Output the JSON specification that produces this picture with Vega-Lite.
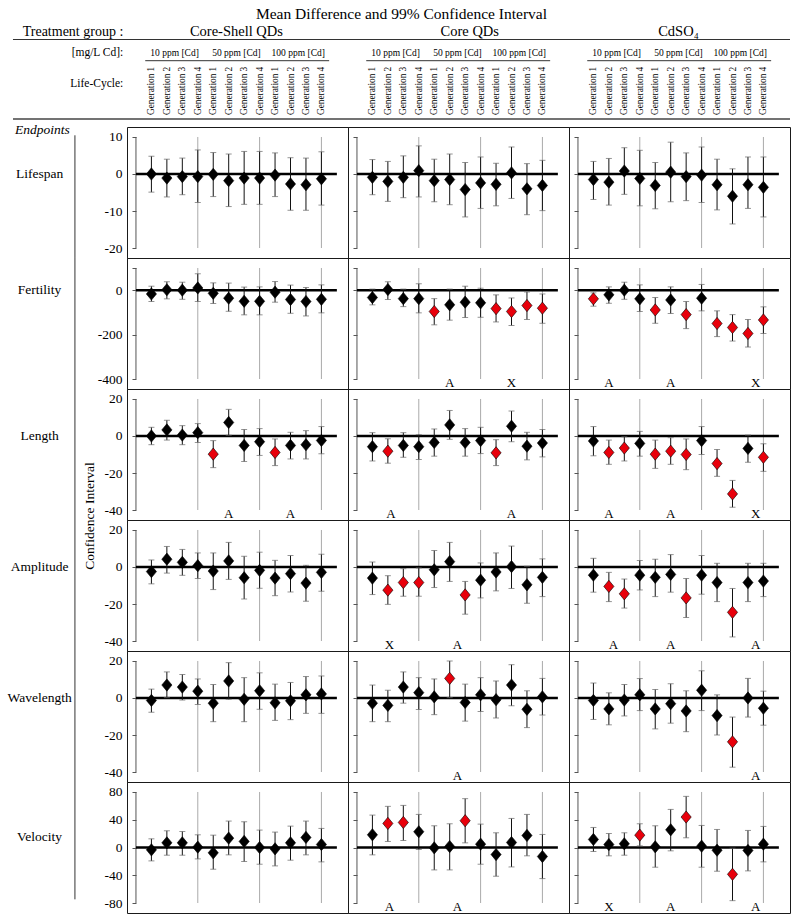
{
"$schema": "https://vega.github.io/schema/vega-lite/v6.json",
"padding": 0,
"background": "white",
"config": {"font": "Liberation Serif", "view": {"stroke": "#1a1a1a", "strokeWidth": 1}, "axis": {"labelFont": "Liberation Serif", "labelFontSize": 13.5, "labelColor": "#000", "labelOverlap": false, "labelFlush": false}, "text": {"color": "#000"}},
"datasets": {
"one": [{}],
"seps": [{"s": 4}, {"s": 8}, {"s": 12}],
"gens": [
{"g":1,"n":"Generation 1","c":"10 ppm [Cd]"},{"g":2,"n":"Generation 2","c":"10 ppm [Cd]"},{"g":3,"n":"Generation 3","c":"10 ppm [Cd]"},{"g":4,"n":"Generation 4","c":"10 ppm [Cd]"},
{"g":5,"n":"Generation 1","c":"50 ppm [Cd]"},{"g":6,"n":"Generation 2","c":"50 ppm [Cd]"},{"g":7,"n":"Generation 3","c":"50 ppm [Cd]"},{"g":8,"n":"Generation 4","c":"50 ppm [Cd]"},
{"g":9,"n":"Generation 1","c":"100 ppm [Cd]"},{"g":10,"n":"Generation 2","c":"100 ppm [Cd]"},{"g":11,"n":"Generation 3","c":"100 ppm [Cd]"},{"g":12,"n":"Generation 4","c":"100 ppm [Cd]"}],
"ann": [
{"e":"Fertility","t":"CQ","p":6,"a":"A"},{"e":"Fertility","t":"CQ","p":10,"a":"X"},
{"e":"Fertility","t":"Cd","p":2,"a":"A"},{"e":"Fertility","t":"Cd","p":6,"a":"A"},{"e":"Fertility","t":"Cd","p":11.5,"a":"X"},
{"e":"Length","t":"CS","p":6,"a":"A"},{"e":"Length","t":"CS","p":10,"a":"A"},
{"e":"Length","t":"CQ","p":2.2,"a":"A"},{"e":"Length","t":"CQ","p":10,"a":"A"},
{"e":"Length","t":"Cd","p":2,"a":"A"},{"e":"Length","t":"Cd","p":6,"a":"A"},{"e":"Length","t":"Cd","p":11.5,"a":"X"},
{"e":"Amplitude","t":"CQ","p":2.1,"a":"X"},{"e":"Amplitude","t":"CQ","p":6.5,"a":"A"},
{"e":"Amplitude","t":"Cd","p":2.3,"a":"A"},{"e":"Amplitude","t":"Cd","p":6,"a":"A"},{"e":"Amplitude","t":"Cd","p":11.5,"a":"A"},
{"e":"Wavelength","t":"CQ","p":6.5,"a":"A"},{"e":"Wavelength","t":"Cd","p":11.5,"a":"A"},
{"e":"Velocity","t":"CQ","p":2.1,"a":"A"},{"e":"Velocity","t":"CQ","p":6.5,"a":"A"},
{"e":"Velocity","t":"Cd","p":2,"a":"X"},{"e":"Velocity","t":"Cd","p":6,"a":"A"},{"e":"Velocity","t":"Cd","p":11.5,"a":"A"}],
"pts": [
{"e":"Lifespan","t":"CS","g":1,"m":0,"l":-4.9,"u":4.8,"s":0},
{"e":"Lifespan","t":"CS","g":2,"m":-1.1,"l":-6.2,"u":4.0,"s":0},
{"e":"Lifespan","t":"CS","g":3,"m":-0.7,"l":-5.6,"u":4.3,"s":0},
{"e":"Lifespan","t":"CS","g":4,"m":-0.7,"l":-7.7,"u":6.5,"s":0},
{"e":"Lifespan","t":"CS","g":5,"m":-0.1,"l":-6.1,"u":5.8,"s":0},
{"e":"Lifespan","t":"CS","g":6,"m":-1.8,"l":-8.8,"u":5.4,"s":0},
{"e":"Lifespan","t":"CS","g":7,"m":-1.1,"l":-8.2,"u":6.1,"s":0},
{"e":"Lifespan","t":"CS","g":8,"m":-1.1,"l":-8.2,"u":6.1,"s":0},
{"e":"Lifespan","t":"CS","g":9,"m":-0.3,"l":-6.1,"u":5.7,"s":0},
{"e":"Lifespan","t":"CS","g":10,"m":-2.7,"l":-9.8,"u":4.4,"s":0},
{"e":"Lifespan","t":"CS","g":11,"m":-2.9,"l":-9.8,"u":4.3,"s":0},
{"e":"Lifespan","t":"CS","g":12,"m":-1.3,"l":-8.4,"u":6.0,"s":0},
{"e":"Lifespan","t":"CQ","g":1,"m":-0.9,"l":-5.6,"u":3.9,"s":0},
{"e":"Lifespan","t":"CQ","g":2,"m":-2.0,"l":-7.4,"u":3.4,"s":0},
{"e":"Lifespan","t":"CQ","g":3,"m":-0.9,"l":-6.4,"u":4.9,"s":0},
{"e":"Lifespan","t":"CQ","g":4,"m":0.9,"l":-6.2,"u":7.6,"s":0},
{"e":"Lifespan","t":"CQ","g":5,"m":-1.8,"l":-7.5,"u":4.0,"s":0},
{"e":"Lifespan","t":"CQ","g":6,"m":-1.5,"l":-8.3,"u":5.4,"s":0},
{"e":"Lifespan","t":"CQ","g":7,"m":-4.2,"l":-11.6,"u":3.1,"s":0},
{"e":"Lifespan","t":"CQ","g":8,"m":-2.4,"l":-9.3,"u":4.6,"s":0},
{"e":"Lifespan","t":"CQ","g":9,"m":-2.8,"l":-8.6,"u":2.9,"s":0},
{"e":"Lifespan","t":"CQ","g":10,"m":0.3,"l":-6.6,"u":7.3,"s":0},
{"e":"Lifespan","t":"CQ","g":11,"m":-4.0,"l":-11.0,"u":2.8,"s":0},
{"e":"Lifespan","t":"CQ","g":12,"m":-3.1,"l":-9.9,"u":3.7,"s":0},
{"e":"Lifespan","t":"Cd","g":1,"m":-1.5,"l":-6.9,"u":3.4,"s":0},
{"e":"Lifespan","t":"Cd","g":2,"m":-2.2,"l":-8.4,"u":4.2,"s":0},
{"e":"Lifespan","t":"Cd","g":3,"m":0.8,"l":-5.5,"u":7.1,"s":0},
{"e":"Lifespan","t":"Cd","g":4,"m":-1.2,"l":-8.6,"u":6.4,"s":0},
{"e":"Lifespan","t":"Cd","g":5,"m":-3.1,"l":-9.4,"u":3.1,"s":0},
{"e":"Lifespan","t":"Cd","g":6,"m":0.5,"l":-7.5,"u":8.6,"s":0},
{"e":"Lifespan","t":"Cd","g":7,"m":-0.7,"l":-7.2,"u":5.7,"s":0},
{"e":"Lifespan","t":"Cd","g":8,"m":-0.3,"l":-7.7,"u":7.3,"s":0},
{"e":"Lifespan","t":"Cd","g":9,"m":-2.9,"l":-9.7,"u":4.0,"s":0},
{"e":"Lifespan","t":"Cd","g":10,"m":-6.0,"l":-13.5,"u":1.4,"s":0},
{"e":"Lifespan","t":"Cd","g":11,"m":-2.9,"l":-9.3,"u":4.6,"s":0},
{"e":"Lifespan","t":"Cd","g":12,"m":-3.6,"l":-11.6,"u":4.6,"s":0},
{"e":"Fertility","t":"CS","g":1,"m":-17,"l":-51,"u":18,"s":0},
{"e":"Fertility","t":"CS","g":2,"m":2,"l":-39,"u":38,"s":0},
{"e":"Fertility","t":"CS","g":3,"m":0,"l":-41,"u":36,"s":0},
{"e":"Fertility","t":"CS","g":4,"m":10,"l":-51,"u":74,"s":0},
{"e":"Fertility","t":"CS","g":5,"m":-14,"l":-60,"u":33,"s":0},
{"e":"Fertility","t":"CS","g":6,"m":-36,"l":-95,"u":32,"s":0},
{"e":"Fertility","t":"CS","g":7,"m":-50,"l":-111,"u":14,"s":0},
{"e":"Fertility","t":"CS","g":8,"m":-50,"l":-111,"u":15,"s":0},
{"e":"Fertility","t":"CS","g":9,"m":-9,"l":-54,"u":39,"s":0},
{"e":"Fertility","t":"CS","g":10,"m":-42,"l":-104,"u":23,"s":0},
{"e":"Fertility","t":"CS","g":11,"m":-51,"l":-116,"u":12,"s":0},
{"e":"Fertility","t":"CS","g":12,"m":-41,"l":-102,"u":24,"s":0},
{"e":"Fertility","t":"CQ","g":1,"m":-33,"l":-66,"u":5,"s":0},
{"e":"Fertility","t":"CQ","g":2,"m":3,"l":-42,"u":38,"s":0},
{"e":"Fertility","t":"CQ","g":3,"m":-38,"l":-74,"u":5,"s":0},
{"e":"Fertility","t":"CQ","g":4,"m":-38,"l":-102,"u":29,"s":0},
{"e":"Fertility","t":"CQ","g":5,"m":-96,"l":-156,"u":-38,"s":1},
{"e":"Fertility","t":"CQ","g":6,"m":-66,"l":-135,"u":5,"s":0},
{"e":"Fertility","t":"CQ","g":7,"m":-54,"l":-123,"u":18,"s":0},
{"e":"Fertility","t":"CQ","g":8,"m":-57,"l":-122,"u":9,"s":0},
{"e":"Fertility","t":"CQ","g":9,"m":-83,"l":-143,"u":-21,"s":1},
{"e":"Fertility","t":"CQ","g":10,"m":-96,"l":-159,"u":-35,"s":1},
{"e":"Fertility","t":"CQ","g":11,"m":-69,"l":-132,"u":-8,"s":1},
{"e":"Fertility","t":"CQ","g":12,"m":-81,"l":-149,"u":-17,"s":1},
{"e":"Fertility","t":"Cd","g":1,"m":-39,"l":-72,"u":-12,"s":1},
{"e":"Fertility","t":"Cd","g":2,"m":-21,"l":-59,"u":15,"s":0},
{"e":"Fertility","t":"Cd","g":3,"m":0,"l":-41,"u":36,"s":0},
{"e":"Fertility","t":"Cd","g":4,"m":-39,"l":-96,"u":24,"s":0},
{"e":"Fertility","t":"Cd","g":5,"m":-89,"l":-149,"u":-33,"s":1},
{"e":"Fertility","t":"Cd","g":6,"m":-44,"l":-105,"u":15,"s":0},
{"e":"Fertility","t":"Cd","g":7,"m":-110,"l":-173,"u":-51,"s":1},
{"e":"Fertility","t":"Cd","g":8,"m":-36,"l":-93,"u":26,"s":0},
{"e":"Fertility","t":"Cd","g":9,"m":-150,"l":-209,"u":-93,"s":1},
{"e":"Fertility","t":"Cd","g":10,"m":-168,"l":-229,"u":-110,"s":1},
{"e":"Fertility","t":"Cd","g":11,"m":-195,"l":-256,"u":-132,"s":1},
{"e":"Fertility","t":"Cd","g":12,"m":-134,"l":-195,"u":-75,"s":1},
{"e":"Length","t":"CS","g":1,"m":0,"l":-4.7,"u":4.7,"s":0},
{"e":"Length","t":"CS","g":2,"m":3.3,"l":-2.2,"u":8.5,"s":0},
{"e":"Length","t":"CS","g":3,"m":0.5,"l":-4.7,"u":5.6,"s":0},
{"e":"Length","t":"CS","g":4,"m":1.8,"l":-3.5,"u":6.7,"s":0},
{"e":"Length","t":"CS","g":5,"m":-9.8,"l":-17.1,"u":-2.5,"s":1},
{"e":"Length","t":"CS","g":6,"m":7.3,"l":0.4,"u":14.4,"s":0},
{"e":"Length","t":"CS","g":7,"m":-5.1,"l":-13.8,"u":3.5,"s":0},
{"e":"Length","t":"CS","g":8,"m":-3.1,"l":-10.5,"u":4.0,"s":0},
{"e":"Length","t":"CS","g":9,"m":-8.9,"l":-16.0,"u":-1.6,"s":1},
{"e":"Length","t":"CS","g":10,"m":-5.1,"l":-12.4,"u":2.0,"s":0},
{"e":"Length","t":"CS","g":11,"m":-4.7,"l":-12.4,"u":2.9,"s":0},
{"e":"Length","t":"CS","g":12,"m":-2.4,"l":-9.6,"u":5.1,"s":0},
{"e":"Length","t":"CQ","g":1,"m":-5.8,"l":-13.5,"u":1.8,"s":0},
{"e":"Length","t":"CQ","g":2,"m":-8.2,"l":-14.7,"u":-1.5,"s":1},
{"e":"Length","t":"CQ","g":3,"m":-5.1,"l":-11.5,"u":1.8,"s":0},
{"e":"Length","t":"CQ","g":4,"m":-5.8,"l":-12.7,"u":0.7,"s":0},
{"e":"Length","t":"CQ","g":5,"m":-3.5,"l":-10.9,"u":3.8,"s":0},
{"e":"Length","t":"CQ","g":6,"m":6.0,"l":-1.8,"u":13.8,"s":0},
{"e":"Length","t":"CQ","g":7,"m":-3.5,"l":-10.9,"u":4.0,"s":0},
{"e":"Length","t":"CQ","g":8,"m":-2.5,"l":-9.5,"u":4.7,"s":0},
{"e":"Length","t":"CQ","g":9,"m":-9.1,"l":-16.0,"u":-2.0,"s":1},
{"e":"Length","t":"CQ","g":10,"m":5.3,"l":-3.1,"u":13.5,"s":0},
{"e":"Length","t":"CQ","g":11,"m":-5.5,"l":-12.9,"u":2.0,"s":0},
{"e":"Length","t":"CQ","g":12,"m":-3.8,"l":-11.3,"u":3.5,"s":0},
{"e":"Length","t":"Cd","g":1,"m":-2.7,"l":-10.7,"u":5.1,"s":0},
{"e":"Length","t":"Cd","g":2,"m":-8.9,"l":-15.3,"u":-2.2,"s":1},
{"e":"Length","t":"Cd","g":3,"m":-6.5,"l":-13.5,"u":-0.4,"s":1},
{"e":"Length","t":"Cd","g":4,"m":-4.0,"l":-10.9,"u":2.5,"s":0},
{"e":"Length","t":"Cd","g":5,"m":-9.8,"l":-17.5,"u":-2.2,"s":1},
{"e":"Length","t":"Cd","g":6,"m":-8.2,"l":-15.3,"u":-0.9,"s":1},
{"e":"Length","t":"Cd","g":7,"m":-10.0,"l":-18.2,"u":-1.6,"s":1},
{"e":"Length","t":"Cd","g":8,"m":-2.5,"l":-10.0,"u":5.1,"s":0},
{"e":"Length","t":"Cd","g":9,"m":-14.9,"l":-21.8,"u":-7.3,"s":1},
{"e":"Length","t":"Cd","g":10,"m":-31.3,"l":-38.5,"u":-24.0,"s":1},
{"e":"Length","t":"Cd","g":11,"m":-6.7,"l":-14.2,"u":0.5,"s":0},
{"e":"Length","t":"Cd","g":12,"m":-11.5,"l":-19.1,"u":-4.2,"s":1},
{"e":"Amplitude","t":"CS","g":1,"m":-2.5,"l":-9.1,"u":3.8,"s":0},
{"e":"Amplitude","t":"CS","g":2,"m":4.2,"l":-3.3,"u":11.1,"s":0},
{"e":"Amplitude","t":"CS","g":3,"m":2.5,"l":-4.5,"u":9.5,"s":0},
{"e":"Amplitude","t":"CS","g":4,"m":0.7,"l":-6.2,"u":7.6,"s":0},
{"e":"Amplitude","t":"CS","g":5,"m":-2.2,"l":-12.2,"u":7.6,"s":0},
{"e":"Amplitude","t":"CS","g":6,"m":3.3,"l":-6.7,"u":13.3,"s":0},
{"e":"Amplitude","t":"CS","g":7,"m":-5.8,"l":-17.3,"u":5.8,"s":0},
{"e":"Amplitude","t":"CS","g":8,"m":-1.8,"l":-11.5,"u":8.0,"s":0},
{"e":"Amplitude","t":"CS","g":9,"m":-6.0,"l":-15.5,"u":3.6,"s":0},
{"e":"Amplitude","t":"CS","g":10,"m":-3.6,"l":-13.5,"u":6.2,"s":0},
{"e":"Amplitude","t":"CS","g":11,"m":-8.7,"l":-18.5,"u":0.9,"s":0},
{"e":"Amplitude","t":"CS","g":12,"m":-2.9,"l":-13.1,"u":6.9,"s":0},
{"e":"Amplitude","t":"CQ","g":1,"m":-6.0,"l":-14.9,"u":2.7,"s":0},
{"e":"Amplitude","t":"CQ","g":2,"m":-12.5,"l":-20.2,"u":-4.7,"s":1},
{"e":"Amplitude","t":"CQ","g":3,"m":-8.4,"l":-15.8,"u":-0.9,"s":1},
{"e":"Amplitude","t":"CQ","g":4,"m":-8.4,"l":-15.8,"u":-0.5,"s":1},
{"e":"Amplitude","t":"CQ","g":5,"m":-1.5,"l":-11.1,"u":8.9,"s":0},
{"e":"Amplitude","t":"CQ","g":6,"m":2.9,"l":-7.8,"u":13.3,"s":0},
{"e":"Amplitude","t":"CQ","g":7,"m":-15.1,"l":-25.5,"u":-7.8,"s":1},
{"e":"Amplitude","t":"CQ","g":8,"m":-7.1,"l":-16.7,"u":2.2,"s":0},
{"e":"Amplitude","t":"CQ","g":9,"m":-2.7,"l":-12.9,"u":7.6,"s":0},
{"e":"Amplitude","t":"CQ","g":10,"m":0.2,"l":-11.6,"u":11.3,"s":0},
{"e":"Amplitude","t":"CQ","g":11,"m":-9.6,"l":-19.6,"u":0.4,"s":0},
{"e":"Amplitude","t":"CQ","g":12,"m":-5.6,"l":-16.0,"u":4.4,"s":0},
{"e":"Amplitude","t":"Cd","g":1,"m":-4.4,"l":-13.6,"u":4.7,"s":0},
{"e":"Amplitude","t":"Cd","g":2,"m":-10.5,"l":-18.7,"u":-2.9,"s":1},
{"e":"Amplitude","t":"Cd","g":3,"m":-14.5,"l":-22.2,"u":-6.5,"s":1},
{"e":"Amplitude","t":"Cd","g":4,"m":-4.4,"l":-12.4,"u":3.5,"s":0},
{"e":"Amplitude","t":"Cd","g":5,"m":-5.6,"l":-16.0,"u":4.2,"s":0},
{"e":"Amplitude","t":"Cd","g":6,"m":-4.0,"l":-13.6,"u":6.7,"s":0},
{"e":"Amplitude","t":"Cd","g":7,"m":-16.7,"l":-27.3,"u":-6.2,"s":1},
{"e":"Amplitude","t":"Cd","g":8,"m":-4.4,"l":-14.7,"u":6.2,"s":0},
{"e":"Amplitude","t":"Cd","g":9,"m":-8.4,"l":-18.7,"u":2.0,"s":0},
{"e":"Amplitude","t":"Cd","g":10,"m":-24.5,"l":-37.8,"u":-11.6,"s":1},
{"e":"Amplitude","t":"Cd","g":11,"m":-8.4,"l":-18.7,"u":2.0,"s":0},
{"e":"Amplitude","t":"Cd","g":12,"m":-7.6,"l":-16.0,"u":2.0,"s":0},
{"e":"Wavelength","t":"CS","g":1,"m":-1.3,"l":-7.7,"u":4.8,"s":0},
{"e":"Wavelength","t":"CS","g":2,"m":7.0,"l":0.2,"u":14.1,"s":0},
{"e":"Wavelength","t":"CS","g":3,"m":5.9,"l":-1.1,"u":12.7,"s":0},
{"e":"Wavelength","t":"CS","g":4,"m":3.7,"l":-3.5,"u":10.3,"s":0},
{"e":"Wavelength","t":"CS","g":5,"m":-2.8,"l":-12.8,"u":7.3,"s":0},
{"e":"Wavelength","t":"CS","g":6,"m":9.2,"l":-0.7,"u":19.1,"s":0},
{"e":"Wavelength","t":"CS","g":7,"m":-0.7,"l":-12.8,"u":11.0,"s":0},
{"e":"Wavelength","t":"CS","g":8,"m":3.9,"l":-6.1,"u":13.6,"s":0},
{"e":"Wavelength","t":"CS","g":9,"m":-2.6,"l":-12.1,"u":7.5,"s":0},
{"e":"Wavelength","t":"CS","g":10,"m":-1.5,"l":-11.7,"u":8.4,"s":0},
{"e":"Wavelength","t":"CS","g":11,"m":1.7,"l":-8.3,"u":11.6,"s":0},
{"e":"Wavelength","t":"CS","g":12,"m":2.2,"l":-8.3,"u":11.9,"s":0},
{"e":"Wavelength","t":"CQ","g":1,"m":-2.8,"l":-12.8,"u":7.0,"s":0},
{"e":"Wavelength","t":"CQ","g":2,"m":-4.0,"l":-12.8,"u":4.2,"s":0},
{"e":"Wavelength","t":"CQ","g":3,"m":5.9,"l":-2.8,"u":14.1,"s":0},
{"e":"Wavelength","t":"CQ","g":4,"m":2.9,"l":-6.2,"u":11.0,"s":0},
{"e":"Wavelength","t":"CQ","g":5,"m":0.6,"l":-9.0,"u":10.3,"s":0},
{"e":"Wavelength","t":"CQ","g":6,"m":10.6,"l":0.2,"u":20.0,"s":1},
{"e":"Wavelength","t":"CQ","g":7,"m":-2.4,"l":-12.5,"u":7.5,"s":0},
{"e":"Wavelength","t":"CQ","g":8,"m":1.7,"l":-7.3,"u":11.0,"s":0},
{"e":"Wavelength","t":"CQ","g":9,"m":-0.9,"l":-10.8,"u":9.2,"s":0},
{"e":"Wavelength","t":"CQ","g":10,"m":7.0,"l":-4.2,"u":18.0,"s":0},
{"e":"Wavelength","t":"CQ","g":11,"m":-6.1,"l":-16.0,"u":3.9,"s":0},
{"e":"Wavelength","t":"CQ","g":12,"m":0.6,"l":-9.2,"u":10.6,"s":0},
{"e":"Wavelength","t":"Cd","g":1,"m":-1.3,"l":-11.6,"u":8.1,"s":0},
{"e":"Wavelength","t":"Cd","g":2,"m":-5.9,"l":-14.5,"u":2.8,"s":0},
{"e":"Wavelength","t":"Cd","g":3,"m":-1.1,"l":-9.7,"u":7.3,"s":0},
{"e":"Wavelength","t":"Cd","g":4,"m":1.7,"l":-6.8,"u":10.5,"s":0},
{"e":"Wavelength","t":"Cd","g":5,"m":-5.9,"l":-16.7,"u":4.6,"s":0},
{"e":"Wavelength","t":"Cd","g":6,"m":-3.1,"l":-13.6,"u":7.7,"s":0},
{"e":"Wavelength","t":"Cd","g":7,"m":-7.0,"l":-18.2,"u":3.9,"s":0},
{"e":"Wavelength","t":"Cd","g":8,"m":4.2,"l":-6.8,"u":14.7,"s":0},
{"e":"Wavelength","t":"Cd","g":9,"m":-9.5,"l":-20.0,"u":1.7,"s":0},
{"e":"Wavelength","t":"Cd","g":10,"m":-23.7,"l":-37.4,"u":-10.3,"s":1},
{"e":"Wavelength","t":"Cd","g":11,"m":0,"l":-10.3,"u":10.6,"s":0},
{"e":"Wavelength","t":"Cd","g":12,"m":-5.5,"l":-14.7,"u":3.7,"s":0},
{"e":"Velocity","t":"CS","g":1,"m":-3.4,"l":-19.3,"u":12.5,"s":0},
{"e":"Velocity","t":"CS","g":2,"m":6.7,"l":-11.1,"u":24.1,"s":0},
{"e":"Velocity","t":"CS","g":3,"m":6.7,"l":-11.1,"u":23.1,"s":0},
{"e":"Velocity","t":"CS","g":4,"m":0.5,"l":-16.4,"u":18.3,"s":0},
{"e":"Velocity","t":"CS","g":5,"m":-7.7,"l":-31.3,"u":17.8,"s":0},
{"e":"Velocity","t":"CS","g":6,"m":13.5,"l":-10.6,"u":38.1,"s":0},
{"e":"Velocity","t":"CS","g":7,"m":8.7,"l":-20.2,"u":37.1,"s":0},
{"e":"Velocity","t":"CS","g":8,"m":0,"l":-24.1,"u":25.1,"s":0},
{"e":"Velocity","t":"CS","g":9,"m":-1.9,"l":-26.5,"u":22.2,"s":0},
{"e":"Velocity","t":"CS","g":10,"m":6.7,"l":-18.3,"u":30.8,"s":0},
{"e":"Velocity","t":"CS","g":11,"m":14.5,"l":-10.6,"u":38.1,"s":0},
{"e":"Velocity","t":"CS","g":12,"m":4.3,"l":-20.7,"u":27.5,"s":0},
{"e":"Velocity","t":"CQ","g":1,"m":18.3,"l":-10.6,"u":46.7,"s":0},
{"e":"Velocity","t":"CQ","g":2,"m":34.7,"l":8.7,"u":59.3,"s":1},
{"e":"Velocity","t":"CQ","g":3,"m":36.1,"l":10.1,"u":60.7,"s":1},
{"e":"Velocity","t":"CQ","g":4,"m":22.7,"l":-2.9,"u":47.7,"s":0},
{"e":"Velocity","t":"CQ","g":5,"m":-0.5,"l":-32.3,"u":31.3,"s":0},
{"e":"Velocity","t":"CQ","g":6,"m":1.4,"l":-32.3,"u":34.2,"s":0},
{"e":"Velocity","t":"CQ","g":7,"m":38.6,"l":6.7,"u":70.4,"s":1},
{"e":"Velocity","t":"CQ","g":8,"m":4.8,"l":-24.1,"u":33.7,"s":0},
{"e":"Velocity","t":"CQ","g":9,"m":-10.1,"l":-41.4,"u":21.2,"s":0},
{"e":"Velocity","t":"CQ","g":10,"m":7.2,"l":-28.0,"u":41.9,"s":0},
{"e":"Velocity","t":"CQ","g":11,"m":17.3,"l":-12.0,"u":47.7,"s":0},
{"e":"Velocity","t":"CQ","g":12,"m":-13.0,"l":-44.8,"u":18.8,"s":0},
{"e":"Velocity","t":"Cd","g":1,"m":11.6,"l":-5.8,"u":28.9,"s":0},
{"e":"Velocity","t":"Cd","g":2,"m":4.3,"l":-12.0,"u":20.2,"s":0},
{"e":"Velocity","t":"Cd","g":3,"m":5.3,"l":-11.1,"u":21.2,"s":0},
{"e":"Velocity","t":"Cd","g":4,"m":17.8,"l":2.4,"u":34.2,"s":1},
{"e":"Velocity","t":"Cd","g":5,"m":1.0,"l":-28.4,"u":31.3,"s":0},
{"e":"Velocity","t":"Cd","g":6,"m":25.5,"l":-4.8,"u":54.9,"s":0},
{"e":"Velocity","t":"Cd","g":7,"m":43.9,"l":14.0,"u":73.7,"s":1},
{"e":"Velocity","t":"Cd","g":8,"m":1.9,"l":-28.4,"u":31.8,"s":0},
{"e":"Velocity","t":"Cd","g":9,"m":-3.9,"l":-34.2,"u":26.0,"s":0},
{"e":"Velocity","t":"Cd","g":10,"m":-38.6,"l":-76.6,"u":-1.0,"s":1},
{"e":"Velocity","t":"Cd","g":11,"m":-4.3,"l":-33.7,"u":24.6,"s":0},
{"e":"Velocity","t":"Cd","g":12,"m":4.8,"l":-20.7,"u":30.4,"s":0}
]},
"columns": 4,
"spacing": 0,
"bounds": "flush",
"concat": [
{"width":127,"height":126.7,"view":{"stroke":null},"data":{"name":"one"},"layer":[
 {"mark":{"type":"text","align":"right","fontSize":14,"text":"Treatment group :"},"encoding":{"x":{"datum":-0.82,"type":"quantitative","scale":{"domain":[-8.8,-0.58],"nice":false,"zero":false},"axis":null},"y":{"datum":32,"type":"quantitative","scale":{"domain":[0,126.7],"reverse":true,"nice":false,"zero":false},"axis":null}}},
 {"mark":{"type":"text","align":"right","fontSize":11.5,"text":"[mg/L Cd]:"},"encoding":{"x":{"datum":-0.82,"type":"quantitative","axis":null},"y":{"datum":53.3,"type":"quantitative","axis":null}}},
 {"mark":{"type":"text","align":"right","fontSize":11.5,"text":"Life-Cycle:"},"encoding":{"x":{"datum":-0.82,"type":"quantitative","axis":null},"y":{"datum":84,"type":"quantitative","axis":null}}},
 {"mark":{"type":"rule","color":"#333"},"encoding":{"x":{"datum":-7.96,"type":"quantitative","axis":null},"x2":{"datum":-0.58},"y":{"datum":39.5,"type":"quantitative","axis":null}}},
 {"mark":{"type":"rule","color":"#444","strokeWidth":1.5},"encoding":{"x":{"datum":-7.96,"type":"quantitative","axis":null},"x2":{"datum":-0.58},"y":{"datum":119,"type":"quantitative","axis":null}}}
]},
{"width":221,"height":126.7,"view":{"stroke":null},"layer":[
 {"data":{"name":"one"},"mark":{"type":"text","fontSize":14.5,"text":"Core-Shell QDs"},"encoding":{"x":{"datum":6.5,"type":"quantitative","scale":{"domain":[-0.58,13.72],"nice":false,"zero":false},"axis":null},"y":{"datum":31.5,"type":"quantitative","scale":{"domain":[0,126.7],"reverse":true,"nice":false,"zero":false},"axis":null}}},
 {"data":{"name":"one"},"mark":{"type":"rule","color":"#333"},"encoding":{"x":{"datum":-0.58,"type":"quantitative","axis":null},"x2":{"datum":13.72},"y":{"datum":39.5,"type":"quantitative","axis":null}}},
 {"data":{"name":"gens"},"transform":[{"aggregate":[{"op":"mean","field":"g","as":"gm"}],"groupby":["c"]}],"mark":{"type":"text","fontSize":9.5},"encoding":{"x":{"field":"gm","type":"quantitative","axis":null},"y":{"datum":53.3,"type":"quantitative","axis":null},"text":{"field":"c"}}},
 {"data":{"name":"one"},"mark":{"type":"rule","color":"#333"},"encoding":{"x":{"datum":0.6,"type":"quantitative","axis":null},"x2":{"datum":12.5},"y":{"datum":60.7,"type":"quantitative","axis":null}}},
 {"data":{"name":"gens"},"mark":{"type":"text","fontSize":9.3,"angle":270,"align":"left","baseline":"middle"},"encoding":{"x":{"field":"g","type":"quantitative","axis":null},"y":{"datum":115,"type":"quantitative","axis":null},"text":{"field":"n"}}},
 {"data":{"name":"one"},"mark":{"type":"rule","color":"#444","strokeWidth":1.5},"encoding":{"x":{"datum":-0.58,"type":"quantitative","axis":null},"x2":{"datum":13.72},"y":{"datum":119,"type":"quantitative","axis":null}}}
]},
{"width":221,"height":126.7,"view":{"stroke":null},"layer":[
 {"data":{"name":"one"},"mark":{"type":"text","fontSize":14.5,"text":"Core QDs"},"encoding":{"x":{"datum":7.3,"type":"quantitative","scale":{"domain":[-0.58,13.72],"nice":false,"zero":false},"axis":null},"y":{"datum":31.5,"type":"quantitative","scale":{"domain":[0,126.7],"reverse":true,"nice":false,"zero":false},"axis":null}}},
 {"data":{"name":"one"},"mark":{"type":"text","fontSize":15.5,"text":"Mean Difference and 99% Confidence Interval"},"encoding":{"x":{"datum":2.88,"type":"quantitative","axis":null},"y":{"datum":14,"type":"quantitative","axis":null}}},
 {"data":{"name":"one"},"mark":{"type":"rule","color":"#333"},"encoding":{"x":{"datum":-0.58,"type":"quantitative","axis":null},"x2":{"datum":13.72},"y":{"datum":39.5,"type":"quantitative","axis":null}}},
 {"data":{"name":"gens"},"transform":[{"aggregate":[{"op":"mean","field":"g","as":"gm"}],"groupby":["c"]}],"mark":{"type":"text","fontSize":9.5},"encoding":{"x":{"field":"gm","type":"quantitative","axis":null},"y":{"datum":53.3,"type":"quantitative","axis":null},"text":{"field":"c"}}},
 {"data":{"name":"one"},"mark":{"type":"rule","color":"#333"},"encoding":{"x":{"datum":0.6,"type":"quantitative","axis":null},"x2":{"datum":12.5},"y":{"datum":60.7,"type":"quantitative","axis":null}}},
 {"data":{"name":"gens"},"mark":{"type":"text","fontSize":9.3,"angle":270,"align":"left","baseline":"middle"},"encoding":{"x":{"field":"g","type":"quantitative","axis":null},"y":{"datum":115,"type":"quantitative","axis":null},"text":{"field":"n"}}},
 {"data":{"name":"one"},"mark":{"type":"rule","color":"#444","strokeWidth":1.5},"encoding":{"x":{"datum":-0.58,"type":"quantitative","axis":null},"x2":{"datum":13.72},"y":{"datum":119,"type":"quantitative","axis":null}}}
]},
{"width":221,"height":126.7,"view":{"stroke":null},"layer":[
 {"data":{"name":"one"},"mark":{"type":"text","fontSize":14.5,"text":"CdSO₄"},"encoding":{"x":{"datum":6.5,"type":"quantitative","scale":{"domain":[-0.58,13.72],"nice":false,"zero":false},"axis":null},"y":{"datum":31.5,"type":"quantitative","scale":{"domain":[0,126.7],"reverse":true,"nice":false,"zero":false},"axis":null}}},
 {"data":{"name":"one"},"mark":{"type":"rule","color":"#333"},"encoding":{"x":{"datum":-0.58,"type":"quantitative","axis":null},"x2":{"datum":13.72},"y":{"datum":39.5,"type":"quantitative","axis":null}}},
 {"data":{"name":"gens"},"transform":[{"aggregate":[{"op":"mean","field":"g","as":"gm"}],"groupby":["c"]}],"mark":{"type":"text","fontSize":9.5},"encoding":{"x":{"field":"gm","type":"quantitative","axis":null},"y":{"datum":53.3,"type":"quantitative","axis":null},"text":{"field":"c"}}},
 {"data":{"name":"one"},"mark":{"type":"rule","color":"#333"},"encoding":{"x":{"datum":0.6,"type":"quantitative","axis":null},"x2":{"datum":12.5},"y":{"datum":60.7,"type":"quantitative","axis":null}}},
 {"data":{"name":"gens"},"mark":{"type":"text","fontSize":9.3,"angle":270,"align":"left","baseline":"middle"},"encoding":{"x":{"field":"g","type":"quantitative","axis":null},"y":{"datum":115,"type":"quantitative","axis":null},"text":{"field":"n"}}},
 {"data":{"name":"one"},"mark":{"type":"rule","color":"#444","strokeWidth":1.5},"encoding":{"x":{"datum":-0.58,"type":"quantitative","axis":null},"x2":{"datum":13.72},"y":{"datum":119,"type":"quantitative","axis":null}}}
]},

{"width":127,"height":131,"view":{"stroke":null},"data":{"name":"one"},"layer":[
 {"mark":{"type":"text","fontSize":13.5,"text":"Lifespan"},"encoding":{"x":{"datum":-6.24,"type":"quantitative","scale":{"domain":[-8.8,-0.58],"nice":false,"zero":false},"axis":null},"y":{"datum":0,"type":"quantitative","scale":{"domain":[-22.7,12.7],"nice":false,"zero":false},"axis":null}}},
 {"mark":{"type":"text","fontSize":13.5,"fontStyle":"italic","align":"left","text":"Endpoints"},"encoding":{"x":{"datum":-7.83,"type":"quantitative","axis":null},"y":{"datum":12.0,"type":"quantitative","axis":null}}},
 {"mark":{"type":"rule","color":"#333"},"encoding":{"x":{"datum":-3.95,"type":"quantitative","axis":null},"y":{"datum":10.46,"type":"quantitative","axis":null},"y2":{"datum":-22.7}}}
]},
{"width":221,"height":131,"layer":[
 {"data":{"name":"seps"},"mark":{"type":"rule","color":"#aaa"},"encoding":{"x":{"field":"s","type":"quantitative","scale":{"domain":[-0.58,13.72],"nice":false,"zero":false},"axis":null},"y":{"datum":-20,"type":"quantitative","scale":{"domain":[-22.7,12.7],"nice":false,"zero":false},"axis":{"values":[-20,-10,0,10],"labels":true,"labelExpr":"'' + datum.value","labelFont":"Liberation Serif","labelFontSize":13.5,"labelColor":"#000","labelOverlap":false,"labelFlush":false,"labelPadding":10,"domain":false,"grid":false,"ticks":true,"tickSize":4,"tickColor":"#555","offset":-9,"title":null}},"y2":{"datum":10}}},
 {"data":{"name":"one"},"mark":{"type":"rule","color":"#555"},"encoding":{"x":{"datum":0,"type":"quantitative","axis":null},"y":{"datum":-20,"type":"quantitative","axis":{"values":[-20,-10,0,10],"labels":true,"labelExpr":"'' + datum.value","labelFont":"Liberation Serif","labelFontSize":13.5,"labelColor":"#000","labelOverlap":false,"labelFlush":false,"labelPadding":10,"domain":false,"grid":false,"ticks":true,"tickSize":4,"tickColor":"#555","offset":-9,"title":null}},"y2":{"datum":10}}},
 {"data":{"name":"one"},"mark":{"type":"rule","color":"#000","strokeWidth":2.6},"encoding":{"x":{"datum":0,"type":"quantitative","axis":null},"x2":{"datum":13},"y":{"datum":0,"type":"quantitative","axis":{"values":[-20,-10,0,10],"labels":true,"labelExpr":"'' + datum.value","labelFont":"Liberation Serif","labelFontSize":13.5,"labelColor":"#000","labelOverlap":false,"labelFlush":false,"labelPadding":10,"domain":false,"grid":false,"ticks":true,"tickSize":4,"tickColor":"#555","offset":-9,"title":null}}}},
 {"data":{"name":"pts"},"transform":[{"filter":"datum.e=='Lifespan'&&datum.t=='CS'"}],"mark":{"type":"rule","color":"#111"},"encoding":{"x":{"field":"g","type":"quantitative","axis":null},"y":{"field":"l","type":"quantitative","axis":{"values":[-20,-10,0,10],"labels":true,"labelExpr":"'' + datum.value","labelFont":"Liberation Serif","labelFontSize":13.5,"labelColor":"#000","labelOverlap":false,"labelFlush":false,"labelPadding":10,"domain":false,"grid":false,"ticks":true,"tickSize":4,"tickColor":"#555","offset":-9,"title":null}},"y2":{"field":"u"}}},
 {"data":{"name":"pts"},"transform":[{"filter":"datum.e=='Lifespan'&&datum.t=='CS'"},{"fold":["l","u"],"as":["k","v"]}],"mark":{"type":"tick","orient":"horizontal","size":6,"thickness":1,"color":"#666"},"encoding":{"x":{"field":"g","type":"quantitative","axis":null},"y":{"field":"v","type":"quantitative","axis":{"values":[-20,-10,0,10],"labels":true,"labelExpr":"'' + datum.value","labelFont":"Liberation Serif","labelFontSize":13.5,"labelColor":"#000","labelOverlap":false,"labelFlush":false,"labelPadding":10,"domain":false,"grid":false,"ticks":true,"tickSize":4,"tickColor":"#555","offset":-9,"title":null}}}},
 {"data":{"name":"pts"},"transform":[{"filter":"datum.e=='Lifespan'&&datum.t=='CS'"}],"mark":{"type":"point","shape":"M0,-1L0.83,0L0,1L-0.83,0Z","filled":true,"size":150,"stroke":"#000","strokeWidth":0.6,"opacity":1},"encoding":{"x":{"field":"g","type":"quantitative","axis":null},"y":{"field":"m","type":"quantitative","axis":{"values":[-20,-10,0,10],"labels":true,"labelExpr":"'' + datum.value","labelFont":"Liberation Serif","labelFontSize":13.5,"labelColor":"#000","labelOverlap":false,"labelFlush":false,"labelPadding":10,"domain":false,"grid":false,"ticks":true,"tickSize":4,"tickColor":"#555","offset":-9,"title":null}},"fill":{"field":"s","type":"nominal","scale":{"domain":[0,1],"range":["#000000","#e8000b"]},"legend":null}}},
 {"data":{"name":"ann"},"transform":[{"filter":"datum.e=='Lifespan'&&datum.t=='CS'"}],"mark":{"type":"text","fontSize":13,"dy":4},"encoding":{"x":{"field":"p","type":"quantitative","axis":null},"y":{"datum":-20,"type":"quantitative","axis":{"values":[-20,-10,0,10],"labels":true,"labelExpr":"'' + datum.value","labelFont":"Liberation Serif","labelFontSize":13.5,"labelColor":"#000","labelOverlap":false,"labelFlush":false,"labelPadding":10,"domain":false,"grid":false,"ticks":true,"tickSize":4,"tickColor":"#555","offset":-9,"title":null}},"text":{"field":"a"}}}
]},
{"width":221,"height":131,"layer":[
 {"data":{"name":"seps"},"mark":{"type":"rule","color":"#aaa"},"encoding":{"x":{"field":"s","type":"quantitative","scale":{"domain":[-0.58,13.72],"nice":false,"zero":false},"axis":null},"y":{"datum":-20,"type":"quantitative","scale":{"domain":[-22.7,12.7],"nice":false,"zero":false},"axis":{"values":[-20,-10,0,10],"labels":false,"domain":false,"grid":false,"ticks":true,"tickSize":4,"tickColor":"#555","offset":-9,"title":null}},"y2":{"datum":10}}},
 {"data":{"name":"one"},"mark":{"type":"rule","color":"#555"},"encoding":{"x":{"datum":0,"type":"quantitative","axis":null},"y":{"datum":-20,"type":"quantitative","axis":{"values":[-20,-10,0,10],"labels":false,"domain":false,"grid":false,"ticks":true,"tickSize":4,"tickColor":"#555","offset":-9,"title":null}},"y2":{"datum":10}}},
 {"data":{"name":"one"},"mark":{"type":"rule","color":"#000","strokeWidth":2.6},"encoding":{"x":{"datum":0,"type":"quantitative","axis":null},"x2":{"datum":13},"y":{"datum":0,"type":"quantitative","axis":{"values":[-20,-10,0,10],"labels":false,"domain":false,"grid":false,"ticks":true,"tickSize":4,"tickColor":"#555","offset":-9,"title":null}}}},
 {"data":{"name":"pts"},"transform":[{"filter":"datum.e=='Lifespan'&&datum.t=='CQ'"}],"mark":{"type":"rule","color":"#111"},"encoding":{"x":{"field":"g","type":"quantitative","axis":null},"y":{"field":"l","type":"quantitative","axis":{"values":[-20,-10,0,10],"labels":false,"domain":false,"grid":false,"ticks":true,"tickSize":4,"tickColor":"#555","offset":-9,"title":null}},"y2":{"field":"u"}}},
 {"data":{"name":"pts"},"transform":[{"filter":"datum.e=='Lifespan'&&datum.t=='CQ'"},{"fold":["l","u"],"as":["k","v"]}],"mark":{"type":"tick","orient":"horizontal","size":6,"thickness":1,"color":"#666"},"encoding":{"x":{"field":"g","type":"quantitative","axis":null},"y":{"field":"v","type":"quantitative","axis":{"values":[-20,-10,0,10],"labels":false,"domain":false,"grid":false,"ticks":true,"tickSize":4,"tickColor":"#555","offset":-9,"title":null}}}},
 {"data":{"name":"pts"},"transform":[{"filter":"datum.e=='Lifespan'&&datum.t=='CQ'"}],"mark":{"type":"point","shape":"M0,-1L0.83,0L0,1L-0.83,0Z","filled":true,"size":150,"stroke":"#000","strokeWidth":0.6,"opacity":1},"encoding":{"x":{"field":"g","type":"quantitative","axis":null},"y":{"field":"m","type":"quantitative","axis":{"values":[-20,-10,0,10],"labels":false,"domain":false,"grid":false,"ticks":true,"tickSize":4,"tickColor":"#555","offset":-9,"title":null}},"fill":{"field":"s","type":"nominal","scale":{"domain":[0,1],"range":["#000000","#e8000b"]},"legend":null}}},
 {"data":{"name":"ann"},"transform":[{"filter":"datum.e=='Lifespan'&&datum.t=='CQ'"}],"mark":{"type":"text","fontSize":13,"dy":4},"encoding":{"x":{"field":"p","type":"quantitative","axis":null},"y":{"datum":-20,"type":"quantitative","axis":{"values":[-20,-10,0,10],"labels":false,"domain":false,"grid":false,"ticks":true,"tickSize":4,"tickColor":"#555","offset":-9,"title":null}},"text":{"field":"a"}}}
]},
{"width":221,"height":131,"layer":[
 {"data":{"name":"seps"},"mark":{"type":"rule","color":"#aaa"},"encoding":{"x":{"field":"s","type":"quantitative","scale":{"domain":[-0.58,13.72],"nice":false,"zero":false},"axis":null},"y":{"datum":-20,"type":"quantitative","scale":{"domain":[-22.7,12.7],"nice":false,"zero":false},"axis":{"values":[-20,-10,0,10],"labels":false,"domain":false,"grid":false,"ticks":true,"tickSize":4,"tickColor":"#555","offset":-9,"title":null}},"y2":{"datum":10}}},
 {"data":{"name":"one"},"mark":{"type":"rule","color":"#555"},"encoding":{"x":{"datum":0,"type":"quantitative","axis":null},"y":{"datum":-20,"type":"quantitative","axis":{"values":[-20,-10,0,10],"labels":false,"domain":false,"grid":false,"ticks":true,"tickSize":4,"tickColor":"#555","offset":-9,"title":null}},"y2":{"datum":10}}},
 {"data":{"name":"one"},"mark":{"type":"rule","color":"#000","strokeWidth":2.6},"encoding":{"x":{"datum":0,"type":"quantitative","axis":null},"x2":{"datum":13},"y":{"datum":0,"type":"quantitative","axis":{"values":[-20,-10,0,10],"labels":false,"domain":false,"grid":false,"ticks":true,"tickSize":4,"tickColor":"#555","offset":-9,"title":null}}}},
 {"data":{"name":"pts"},"transform":[{"filter":"datum.e=='Lifespan'&&datum.t=='Cd'"}],"mark":{"type":"rule","color":"#111"},"encoding":{"x":{"field":"g","type":"quantitative","axis":null},"y":{"field":"l","type":"quantitative","axis":{"values":[-20,-10,0,10],"labels":false,"domain":false,"grid":false,"ticks":true,"tickSize":4,"tickColor":"#555","offset":-9,"title":null}},"y2":{"field":"u"}}},
 {"data":{"name":"pts"},"transform":[{"filter":"datum.e=='Lifespan'&&datum.t=='Cd'"},{"fold":["l","u"],"as":["k","v"]}],"mark":{"type":"tick","orient":"horizontal","size":6,"thickness":1,"color":"#666"},"encoding":{"x":{"field":"g","type":"quantitative","axis":null},"y":{"field":"v","type":"quantitative","axis":{"values":[-20,-10,0,10],"labels":false,"domain":false,"grid":false,"ticks":true,"tickSize":4,"tickColor":"#555","offset":-9,"title":null}}}},
 {"data":{"name":"pts"},"transform":[{"filter":"datum.e=='Lifespan'&&datum.t=='Cd'"}],"mark":{"type":"point","shape":"M0,-1L0.83,0L0,1L-0.83,0Z","filled":true,"size":150,"stroke":"#000","strokeWidth":0.6,"opacity":1},"encoding":{"x":{"field":"g","type":"quantitative","axis":null},"y":{"field":"m","type":"quantitative","axis":{"values":[-20,-10,0,10],"labels":false,"domain":false,"grid":false,"ticks":true,"tickSize":4,"tickColor":"#555","offset":-9,"title":null}},"fill":{"field":"s","type":"nominal","scale":{"domain":[0,1],"range":["#000000","#e8000b"]},"legend":null}}},
 {"data":{"name":"ann"},"transform":[{"filter":"datum.e=='Lifespan'&&datum.t=='Cd'"}],"mark":{"type":"text","fontSize":13,"dy":4},"encoding":{"x":{"field":"p","type":"quantitative","axis":null},"y":{"datum":-20,"type":"quantitative","axis":{"values":[-20,-10,0,10],"labels":false,"domain":false,"grid":false,"ticks":true,"tickSize":4,"tickColor":"#555","offset":-9,"title":null}},"text":{"field":"a"}}}
]},

{"width":127,"height":131,"view":{"stroke":null},"data":{"name":"one"},"layer":[
 {"mark":{"type":"text","fontSize":13.5,"text":"Fertility"},"encoding":{"x":{"datum":-6.24,"type":"quantitative","scale":{"domain":[-8.8,-0.58],"nice":false,"zero":false},"axis":null},"y":{"datum":0,"type":"quantitative","scale":{"domain":[-445,145],"nice":false,"zero":false},"axis":null}}},
 {"mark":{"type":"rule","color":"#333"},"encoding":{"x":{"datum":-3.95,"type":"quantitative","axis":null},"y":{"datum":145,"type":"quantitative","axis":null},"y2":{"datum":-445}}}
]},
{"width":221,"height":131,"layer":[
 {"data":{"name":"seps"},"mark":{"type":"rule","color":"#aaa"},"encoding":{"x":{"field":"s","type":"quantitative","scale":{"domain":[-0.58,13.72],"nice":false,"zero":false},"axis":null},"y":{"datum":-400,"type":"quantitative","scale":{"domain":[-445,145],"nice":false,"zero":false},"axis":{"values":[-400,-200,0,100],"labels":true,"labelExpr":"datum.value == 100 ? '' : '' + datum.value","labelFont":"Liberation Serif","labelFontSize":13.5,"labelColor":"#000","labelOverlap":false,"labelFlush":false,"labelPadding":10,"domain":false,"grid":false,"ticks":true,"tickSize":4,"tickColor":"#555","offset":-9,"title":null}},"y2":{"datum":100}}},
 {"data":{"name":"one"},"mark":{"type":"rule","color":"#555"},"encoding":{"x":{"datum":0,"type":"quantitative","axis":null},"y":{"datum":-400,"type":"quantitative","axis":{"values":[-400,-200,0,100],"labels":true,"labelExpr":"datum.value == 100 ? '' : '' + datum.value","labelFont":"Liberation Serif","labelFontSize":13.5,"labelColor":"#000","labelOverlap":false,"labelFlush":false,"labelPadding":10,"domain":false,"grid":false,"ticks":true,"tickSize":4,"tickColor":"#555","offset":-9,"title":null}},"y2":{"datum":100}}},
 {"data":{"name":"one"},"mark":{"type":"rule","color":"#000","strokeWidth":2.6},"encoding":{"x":{"datum":0,"type":"quantitative","axis":null},"x2":{"datum":13},"y":{"datum":0,"type":"quantitative","axis":{"values":[-400,-200,0,100],"labels":true,"labelExpr":"datum.value == 100 ? '' : '' + datum.value","labelFont":"Liberation Serif","labelFontSize":13.5,"labelColor":"#000","labelOverlap":false,"labelFlush":false,"labelPadding":10,"domain":false,"grid":false,"ticks":true,"tickSize":4,"tickColor":"#555","offset":-9,"title":null}}}},
 {"data":{"name":"pts"},"transform":[{"filter":"datum.e=='Fertility'&&datum.t=='CS'"}],"mark":{"type":"rule","color":"#111"},"encoding":{"x":{"field":"g","type":"quantitative","axis":null},"y":{"field":"l","type":"quantitative","axis":{"values":[-400,-200,0,100],"labels":true,"labelExpr":"datum.value == 100 ? '' : '' + datum.value","labelFont":"Liberation Serif","labelFontSize":13.5,"labelColor":"#000","labelOverlap":false,"labelFlush":false,"labelPadding":10,"domain":false,"grid":false,"ticks":true,"tickSize":4,"tickColor":"#555","offset":-9,"title":null}},"y2":{"field":"u"}}},
 {"data":{"name":"pts"},"transform":[{"filter":"datum.e=='Fertility'&&datum.t=='CS'"},{"fold":["l","u"],"as":["k","v"]}],"mark":{"type":"tick","orient":"horizontal","size":6,"thickness":1,"color":"#666"},"encoding":{"x":{"field":"g","type":"quantitative","axis":null},"y":{"field":"v","type":"quantitative","axis":{"values":[-400,-200,0,100],"labels":true,"labelExpr":"datum.value == 100 ? '' : '' + datum.value","labelFont":"Liberation Serif","labelFontSize":13.5,"labelColor":"#000","labelOverlap":false,"labelFlush":false,"labelPadding":10,"domain":false,"grid":false,"ticks":true,"tickSize":4,"tickColor":"#555","offset":-9,"title":null}}}},
 {"data":{"name":"pts"},"transform":[{"filter":"datum.e=='Fertility'&&datum.t=='CS'"}],"mark":{"type":"point","shape":"M0,-1L0.83,0L0,1L-0.83,0Z","filled":true,"size":150,"stroke":"#000","strokeWidth":0.6,"opacity":1},"encoding":{"x":{"field":"g","type":"quantitative","axis":null},"y":{"field":"m","type":"quantitative","axis":{"values":[-400,-200,0,100],"labels":true,"labelExpr":"datum.value == 100 ? '' : '' + datum.value","labelFont":"Liberation Serif","labelFontSize":13.5,"labelColor":"#000","labelOverlap":false,"labelFlush":false,"labelPadding":10,"domain":false,"grid":false,"ticks":true,"tickSize":4,"tickColor":"#555","offset":-9,"title":null}},"fill":{"field":"s","type":"nominal","scale":{"domain":[0,1],"range":["#000000","#e8000b"]},"legend":null}}},
 {"data":{"name":"ann"},"transform":[{"filter":"datum.e=='Fertility'&&datum.t=='CS'"}],"mark":{"type":"text","fontSize":13,"dy":4},"encoding":{"x":{"field":"p","type":"quantitative","axis":null},"y":{"datum":-400,"type":"quantitative","axis":{"values":[-400,-200,0,100],"labels":true,"labelExpr":"datum.value == 100 ? '' : '' + datum.value","labelFont":"Liberation Serif","labelFontSize":13.5,"labelColor":"#000","labelOverlap":false,"labelFlush":false,"labelPadding":10,"domain":false,"grid":false,"ticks":true,"tickSize":4,"tickColor":"#555","offset":-9,"title":null}},"text":{"field":"a"}}}
]},
{"width":221,"height":131,"layer":[
 {"data":{"name":"seps"},"mark":{"type":"rule","color":"#aaa"},"encoding":{"x":{"field":"s","type":"quantitative","scale":{"domain":[-0.58,13.72],"nice":false,"zero":false},"axis":null},"y":{"datum":-400,"type":"quantitative","scale":{"domain":[-445,145],"nice":false,"zero":false},"axis":{"values":[-400,-200,0,100],"labels":false,"domain":false,"grid":false,"ticks":true,"tickSize":4,"tickColor":"#555","offset":-9,"title":null}},"y2":{"datum":100}}},
 {"data":{"name":"one"},"mark":{"type":"rule","color":"#555"},"encoding":{"x":{"datum":0,"type":"quantitative","axis":null},"y":{"datum":-400,"type":"quantitative","axis":{"values":[-400,-200,0,100],"labels":false,"domain":false,"grid":false,"ticks":true,"tickSize":4,"tickColor":"#555","offset":-9,"title":null}},"y2":{"datum":100}}},
 {"data":{"name":"one"},"mark":{"type":"rule","color":"#000","strokeWidth":2.6},"encoding":{"x":{"datum":0,"type":"quantitative","axis":null},"x2":{"datum":13},"y":{"datum":0,"type":"quantitative","axis":{"values":[-400,-200,0,100],"labels":false,"domain":false,"grid":false,"ticks":true,"tickSize":4,"tickColor":"#555","offset":-9,"title":null}}}},
 {"data":{"name":"pts"},"transform":[{"filter":"datum.e=='Fertility'&&datum.t=='CQ'"}],"mark":{"type":"rule","color":"#111"},"encoding":{"x":{"field":"g","type":"quantitative","axis":null},"y":{"field":"l","type":"quantitative","axis":{"values":[-400,-200,0,100],"labels":false,"domain":false,"grid":false,"ticks":true,"tickSize":4,"tickColor":"#555","offset":-9,"title":null}},"y2":{"field":"u"}}},
 {"data":{"name":"pts"},"transform":[{"filter":"datum.e=='Fertility'&&datum.t=='CQ'"},{"fold":["l","u"],"as":["k","v"]}],"mark":{"type":"tick","orient":"horizontal","size":6,"thickness":1,"color":"#666"},"encoding":{"x":{"field":"g","type":"quantitative","axis":null},"y":{"field":"v","type":"quantitative","axis":{"values":[-400,-200,0,100],"labels":false,"domain":false,"grid":false,"ticks":true,"tickSize":4,"tickColor":"#555","offset":-9,"title":null}}}},
 {"data":{"name":"pts"},"transform":[{"filter":"datum.e=='Fertility'&&datum.t=='CQ'"}],"mark":{"type":"point","shape":"M0,-1L0.83,0L0,1L-0.83,0Z","filled":true,"size":150,"stroke":"#000","strokeWidth":0.6,"opacity":1},"encoding":{"x":{"field":"g","type":"quantitative","axis":null},"y":{"field":"m","type":"quantitative","axis":{"values":[-400,-200,0,100],"labels":false,"domain":false,"grid":false,"ticks":true,"tickSize":4,"tickColor":"#555","offset":-9,"title":null}},"fill":{"field":"s","type":"nominal","scale":{"domain":[0,1],"range":["#000000","#e8000b"]},"legend":null}}},
 {"data":{"name":"ann"},"transform":[{"filter":"datum.e=='Fertility'&&datum.t=='CQ'"}],"mark":{"type":"text","fontSize":13,"dy":4},"encoding":{"x":{"field":"p","type":"quantitative","axis":null},"y":{"datum":-400,"type":"quantitative","axis":{"values":[-400,-200,0,100],"labels":false,"domain":false,"grid":false,"ticks":true,"tickSize":4,"tickColor":"#555","offset":-9,"title":null}},"text":{"field":"a"}}}
]},
{"width":221,"height":131,"layer":[
 {"data":{"name":"seps"},"mark":{"type":"rule","color":"#aaa"},"encoding":{"x":{"field":"s","type":"quantitative","scale":{"domain":[-0.58,13.72],"nice":false,"zero":false},"axis":null},"y":{"datum":-400,"type":"quantitative","scale":{"domain":[-445,145],"nice":false,"zero":false},"axis":{"values":[-400,-200,0,100],"labels":false,"domain":false,"grid":false,"ticks":true,"tickSize":4,"tickColor":"#555","offset":-9,"title":null}},"y2":{"datum":100}}},
 {"data":{"name":"one"},"mark":{"type":"rule","color":"#555"},"encoding":{"x":{"datum":0,"type":"quantitative","axis":null},"y":{"datum":-400,"type":"quantitative","axis":{"values":[-400,-200,0,100],"labels":false,"domain":false,"grid":false,"ticks":true,"tickSize":4,"tickColor":"#555","offset":-9,"title":null}},"y2":{"datum":100}}},
 {"data":{"name":"one"},"mark":{"type":"rule","color":"#000","strokeWidth":2.6},"encoding":{"x":{"datum":0,"type":"quantitative","axis":null},"x2":{"datum":13},"y":{"datum":0,"type":"quantitative","axis":{"values":[-400,-200,0,100],"labels":false,"domain":false,"grid":false,"ticks":true,"tickSize":4,"tickColor":"#555","offset":-9,"title":null}}}},
 {"data":{"name":"pts"},"transform":[{"filter":"datum.e=='Fertility'&&datum.t=='Cd'"}],"mark":{"type":"rule","color":"#111"},"encoding":{"x":{"field":"g","type":"quantitative","axis":null},"y":{"field":"l","type":"quantitative","axis":{"values":[-400,-200,0,100],"labels":false,"domain":false,"grid":false,"ticks":true,"tickSize":4,"tickColor":"#555","offset":-9,"title":null}},"y2":{"field":"u"}}},
 {"data":{"name":"pts"},"transform":[{"filter":"datum.e=='Fertility'&&datum.t=='Cd'"},{"fold":["l","u"],"as":["k","v"]}],"mark":{"type":"tick","orient":"horizontal","size":6,"thickness":1,"color":"#666"},"encoding":{"x":{"field":"g","type":"quantitative","axis":null},"y":{"field":"v","type":"quantitative","axis":{"values":[-400,-200,0,100],"labels":false,"domain":false,"grid":false,"ticks":true,"tickSize":4,"tickColor":"#555","offset":-9,"title":null}}}},
 {"data":{"name":"pts"},"transform":[{"filter":"datum.e=='Fertility'&&datum.t=='Cd'"}],"mark":{"type":"point","shape":"M0,-1L0.83,0L0,1L-0.83,0Z","filled":true,"size":150,"stroke":"#000","strokeWidth":0.6,"opacity":1},"encoding":{"x":{"field":"g","type":"quantitative","axis":null},"y":{"field":"m","type":"quantitative","axis":{"values":[-400,-200,0,100],"labels":false,"domain":false,"grid":false,"ticks":true,"tickSize":4,"tickColor":"#555","offset":-9,"title":null}},"fill":{"field":"s","type":"nominal","scale":{"domain":[0,1],"range":["#000000","#e8000b"]},"legend":null}}},
 {"data":{"name":"ann"},"transform":[{"filter":"datum.e=='Fertility'&&datum.t=='Cd'"}],"mark":{"type":"text","fontSize":13,"dy":4},"encoding":{"x":{"field":"p","type":"quantitative","axis":null},"y":{"datum":-400,"type":"quantitative","axis":{"values":[-400,-200,0,100],"labels":false,"domain":false,"grid":false,"ticks":true,"tickSize":4,"tickColor":"#555","offset":-9,"title":null}},"text":{"field":"a"}}}
]},

{"width":127,"height":131,"view":{"stroke":null},"data":{"name":"one"},"layer":[
 {"mark":{"type":"text","fontSize":13.5,"text":"Length"},"encoding":{"x":{"datum":-6.24,"type":"quantitative","scale":{"domain":[-8.8,-0.58],"nice":false,"zero":false},"axis":null},"y":{"datum":0,"type":"quantitative","scale":{"domain":[-45.4,25.4],"nice":false,"zero":false},"axis":null}}},
 {"mark":{"type":"text","fontSize":13.5,"angle":270,"text":"Confidence Interval"},"encoding":{"x":{"datum":-2.97,"type":"quantitative","axis":null},"y":{"datum":-43.2,"type":"quantitative","axis":null}}},
 {"mark":{"type":"rule","color":"#333"},"encoding":{"x":{"datum":-3.95,"type":"quantitative","axis":null},"y":{"datum":25.4,"type":"quantitative","axis":null},"y2":{"datum":-45.4}}}
]},
{"width":221,"height":131,"layer":[
 {"data":{"name":"seps"},"mark":{"type":"rule","color":"#aaa"},"encoding":{"x":{"field":"s","type":"quantitative","scale":{"domain":[-0.58,13.72],"nice":false,"zero":false},"axis":null},"y":{"datum":-40,"type":"quantitative","scale":{"domain":[-45.4,25.4],"nice":false,"zero":false},"axis":{"values":[-40,-20,0,20],"labels":true,"labelExpr":"'' + datum.value","labelFont":"Liberation Serif","labelFontSize":13.5,"labelColor":"#000","labelOverlap":false,"labelFlush":false,"labelPadding":10,"domain":false,"grid":false,"ticks":true,"tickSize":4,"tickColor":"#555","offset":-9,"title":null}},"y2":{"datum":20}}},
 {"data":{"name":"one"},"mark":{"type":"rule","color":"#555"},"encoding":{"x":{"datum":0,"type":"quantitative","axis":null},"y":{"datum":-40,"type":"quantitative","axis":{"values":[-40,-20,0,20],"labels":true,"labelExpr":"'' + datum.value","labelFont":"Liberation Serif","labelFontSize":13.5,"labelColor":"#000","labelOverlap":false,"labelFlush":false,"labelPadding":10,"domain":false,"grid":false,"ticks":true,"tickSize":4,"tickColor":"#555","offset":-9,"title":null}},"y2":{"datum":20}}},
 {"data":{"name":"one"},"mark":{"type":"rule","color":"#000","strokeWidth":2.6},"encoding":{"x":{"datum":0,"type":"quantitative","axis":null},"x2":{"datum":13},"y":{"datum":0,"type":"quantitative","axis":{"values":[-40,-20,0,20],"labels":true,"labelExpr":"'' + datum.value","labelFont":"Liberation Serif","labelFontSize":13.5,"labelColor":"#000","labelOverlap":false,"labelFlush":false,"labelPadding":10,"domain":false,"grid":false,"ticks":true,"tickSize":4,"tickColor":"#555","offset":-9,"title":null}}}},
 {"data":{"name":"pts"},"transform":[{"filter":"datum.e=='Length'&&datum.t=='CS'"}],"mark":{"type":"rule","color":"#111"},"encoding":{"x":{"field":"g","type":"quantitative","axis":null},"y":{"field":"l","type":"quantitative","axis":{"values":[-40,-20,0,20],"labels":true,"labelExpr":"'' + datum.value","labelFont":"Liberation Serif","labelFontSize":13.5,"labelColor":"#000","labelOverlap":false,"labelFlush":false,"labelPadding":10,"domain":false,"grid":false,"ticks":true,"tickSize":4,"tickColor":"#555","offset":-9,"title":null}},"y2":{"field":"u"}}},
 {"data":{"name":"pts"},"transform":[{"filter":"datum.e=='Length'&&datum.t=='CS'"},{"fold":["l","u"],"as":["k","v"]}],"mark":{"type":"tick","orient":"horizontal","size":6,"thickness":1,"color":"#666"},"encoding":{"x":{"field":"g","type":"quantitative","axis":null},"y":{"field":"v","type":"quantitative","axis":{"values":[-40,-20,0,20],"labels":true,"labelExpr":"'' + datum.value","labelFont":"Liberation Serif","labelFontSize":13.5,"labelColor":"#000","labelOverlap":false,"labelFlush":false,"labelPadding":10,"domain":false,"grid":false,"ticks":true,"tickSize":4,"tickColor":"#555","offset":-9,"title":null}}}},
 {"data":{"name":"pts"},"transform":[{"filter":"datum.e=='Length'&&datum.t=='CS'"}],"mark":{"type":"point","shape":"M0,-1L0.83,0L0,1L-0.83,0Z","filled":true,"size":150,"stroke":"#000","strokeWidth":0.6,"opacity":1},"encoding":{"x":{"field":"g","type":"quantitative","axis":null},"y":{"field":"m","type":"quantitative","axis":{"values":[-40,-20,0,20],"labels":true,"labelExpr":"'' + datum.value","labelFont":"Liberation Serif","labelFontSize":13.5,"labelColor":"#000","labelOverlap":false,"labelFlush":false,"labelPadding":10,"domain":false,"grid":false,"ticks":true,"tickSize":4,"tickColor":"#555","offset":-9,"title":null}},"fill":{"field":"s","type":"nominal","scale":{"domain":[0,1],"range":["#000000","#e8000b"]},"legend":null}}},
 {"data":{"name":"ann"},"transform":[{"filter":"datum.e=='Length'&&datum.t=='CS'"}],"mark":{"type":"text","fontSize":13,"dy":4},"encoding":{"x":{"field":"p","type":"quantitative","axis":null},"y":{"datum":-40,"type":"quantitative","axis":{"values":[-40,-20,0,20],"labels":true,"labelExpr":"'' + datum.value","labelFont":"Liberation Serif","labelFontSize":13.5,"labelColor":"#000","labelOverlap":false,"labelFlush":false,"labelPadding":10,"domain":false,"grid":false,"ticks":true,"tickSize":4,"tickColor":"#555","offset":-9,"title":null}},"text":{"field":"a"}}}
]},
{"width":221,"height":131,"layer":[
 {"data":{"name":"seps"},"mark":{"type":"rule","color":"#aaa"},"encoding":{"x":{"field":"s","type":"quantitative","scale":{"domain":[-0.58,13.72],"nice":false,"zero":false},"axis":null},"y":{"datum":-40,"type":"quantitative","scale":{"domain":[-45.4,25.4],"nice":false,"zero":false},"axis":{"values":[-40,-20,0,20],"labels":false,"domain":false,"grid":false,"ticks":true,"tickSize":4,"tickColor":"#555","offset":-9,"title":null}},"y2":{"datum":20}}},
 {"data":{"name":"one"},"mark":{"type":"rule","color":"#555"},"encoding":{"x":{"datum":0,"type":"quantitative","axis":null},"y":{"datum":-40,"type":"quantitative","axis":{"values":[-40,-20,0,20],"labels":false,"domain":false,"grid":false,"ticks":true,"tickSize":4,"tickColor":"#555","offset":-9,"title":null}},"y2":{"datum":20}}},
 {"data":{"name":"one"},"mark":{"type":"rule","color":"#000","strokeWidth":2.6},"encoding":{"x":{"datum":0,"type":"quantitative","axis":null},"x2":{"datum":13},"y":{"datum":0,"type":"quantitative","axis":{"values":[-40,-20,0,20],"labels":false,"domain":false,"grid":false,"ticks":true,"tickSize":4,"tickColor":"#555","offset":-9,"title":null}}}},
 {"data":{"name":"pts"},"transform":[{"filter":"datum.e=='Length'&&datum.t=='CQ'"}],"mark":{"type":"rule","color":"#111"},"encoding":{"x":{"field":"g","type":"quantitative","axis":null},"y":{"field":"l","type":"quantitative","axis":{"values":[-40,-20,0,20],"labels":false,"domain":false,"grid":false,"ticks":true,"tickSize":4,"tickColor":"#555","offset":-9,"title":null}},"y2":{"field":"u"}}},
 {"data":{"name":"pts"},"transform":[{"filter":"datum.e=='Length'&&datum.t=='CQ'"},{"fold":["l","u"],"as":["k","v"]}],"mark":{"type":"tick","orient":"horizontal","size":6,"thickness":1,"color":"#666"},"encoding":{"x":{"field":"g","type":"quantitative","axis":null},"y":{"field":"v","type":"quantitative","axis":{"values":[-40,-20,0,20],"labels":false,"domain":false,"grid":false,"ticks":true,"tickSize":4,"tickColor":"#555","offset":-9,"title":null}}}},
 {"data":{"name":"pts"},"transform":[{"filter":"datum.e=='Length'&&datum.t=='CQ'"}],"mark":{"type":"point","shape":"M0,-1L0.83,0L0,1L-0.83,0Z","filled":true,"size":150,"stroke":"#000","strokeWidth":0.6,"opacity":1},"encoding":{"x":{"field":"g","type":"quantitative","axis":null},"y":{"field":"m","type":"quantitative","axis":{"values":[-40,-20,0,20],"labels":false,"domain":false,"grid":false,"ticks":true,"tickSize":4,"tickColor":"#555","offset":-9,"title":null}},"fill":{"field":"s","type":"nominal","scale":{"domain":[0,1],"range":["#000000","#e8000b"]},"legend":null}}},
 {"data":{"name":"ann"},"transform":[{"filter":"datum.e=='Length'&&datum.t=='CQ'"}],"mark":{"type":"text","fontSize":13,"dy":4},"encoding":{"x":{"field":"p","type":"quantitative","axis":null},"y":{"datum":-40,"type":"quantitative","axis":{"values":[-40,-20,0,20],"labels":false,"domain":false,"grid":false,"ticks":true,"tickSize":4,"tickColor":"#555","offset":-9,"title":null}},"text":{"field":"a"}}}
]},
{"width":221,"height":131,"layer":[
 {"data":{"name":"seps"},"mark":{"type":"rule","color":"#aaa"},"encoding":{"x":{"field":"s","type":"quantitative","scale":{"domain":[-0.58,13.72],"nice":false,"zero":false},"axis":null},"y":{"datum":-40,"type":"quantitative","scale":{"domain":[-45.4,25.4],"nice":false,"zero":false},"axis":{"values":[-40,-20,0,20],"labels":false,"domain":false,"grid":false,"ticks":true,"tickSize":4,"tickColor":"#555","offset":-9,"title":null}},"y2":{"datum":20}}},
 {"data":{"name":"one"},"mark":{"type":"rule","color":"#555"},"encoding":{"x":{"datum":0,"type":"quantitative","axis":null},"y":{"datum":-40,"type":"quantitative","axis":{"values":[-40,-20,0,20],"labels":false,"domain":false,"grid":false,"ticks":true,"tickSize":4,"tickColor":"#555","offset":-9,"title":null}},"y2":{"datum":20}}},
 {"data":{"name":"one"},"mark":{"type":"rule","color":"#000","strokeWidth":2.6},"encoding":{"x":{"datum":0,"type":"quantitative","axis":null},"x2":{"datum":13},"y":{"datum":0,"type":"quantitative","axis":{"values":[-40,-20,0,20],"labels":false,"domain":false,"grid":false,"ticks":true,"tickSize":4,"tickColor":"#555","offset":-9,"title":null}}}},
 {"data":{"name":"pts"},"transform":[{"filter":"datum.e=='Length'&&datum.t=='Cd'"}],"mark":{"type":"rule","color":"#111"},"encoding":{"x":{"field":"g","type":"quantitative","axis":null},"y":{"field":"l","type":"quantitative","axis":{"values":[-40,-20,0,20],"labels":false,"domain":false,"grid":false,"ticks":true,"tickSize":4,"tickColor":"#555","offset":-9,"title":null}},"y2":{"field":"u"}}},
 {"data":{"name":"pts"},"transform":[{"filter":"datum.e=='Length'&&datum.t=='Cd'"},{"fold":["l","u"],"as":["k","v"]}],"mark":{"type":"tick","orient":"horizontal","size":6,"thickness":1,"color":"#666"},"encoding":{"x":{"field":"g","type":"quantitative","axis":null},"y":{"field":"v","type":"quantitative","axis":{"values":[-40,-20,0,20],"labels":false,"domain":false,"grid":false,"ticks":true,"tickSize":4,"tickColor":"#555","offset":-9,"title":null}}}},
 {"data":{"name":"pts"},"transform":[{"filter":"datum.e=='Length'&&datum.t=='Cd'"}],"mark":{"type":"point","shape":"M0,-1L0.83,0L0,1L-0.83,0Z","filled":true,"size":150,"stroke":"#000","strokeWidth":0.6,"opacity":1},"encoding":{"x":{"field":"g","type":"quantitative","axis":null},"y":{"field":"m","type":"quantitative","axis":{"values":[-40,-20,0,20],"labels":false,"domain":false,"grid":false,"ticks":true,"tickSize":4,"tickColor":"#555","offset":-9,"title":null}},"fill":{"field":"s","type":"nominal","scale":{"domain":[0,1],"range":["#000000","#e8000b"]},"legend":null}}},
 {"data":{"name":"ann"},"transform":[{"filter":"datum.e=='Length'&&datum.t=='Cd'"}],"mark":{"type":"text","fontSize":13,"dy":4},"encoding":{"x":{"field":"p","type":"quantitative","axis":null},"y":{"datum":-40,"type":"quantitative","axis":{"values":[-40,-20,0,20],"labels":false,"domain":false,"grid":false,"ticks":true,"tickSize":4,"tickColor":"#555","offset":-9,"title":null}},"text":{"field":"a"}}}
]},

{"width":127,"height":131,"view":{"stroke":null},"data":{"name":"one"},"layer":[
 {"mark":{"type":"text","fontSize":13.5,"text":"Amplitude"},"encoding":{"x":{"datum":-6.24,"type":"quantitative","scale":{"domain":[-8.8,-0.58],"nice":false,"zero":false},"axis":null},"y":{"datum":0,"type":"quantitative","scale":{"domain":[-45.4,25.4],"nice":false,"zero":false},"axis":null}}},
 {"mark":{"type":"rule","color":"#333"},"encoding":{"x":{"datum":-3.95,"type":"quantitative","axis":null},"y":{"datum":25.4,"type":"quantitative","axis":null},"y2":{"datum":-45.4}}}
]},
{"width":221,"height":131,"layer":[
 {"data":{"name":"seps"},"mark":{"type":"rule","color":"#aaa"},"encoding":{"x":{"field":"s","type":"quantitative","scale":{"domain":[-0.58,13.72],"nice":false,"zero":false},"axis":null},"y":{"datum":-40,"type":"quantitative","scale":{"domain":[-45.4,25.4],"nice":false,"zero":false},"axis":{"values":[-40,-20,0,20],"labels":true,"labelExpr":"'' + datum.value","labelFont":"Liberation Serif","labelFontSize":13.5,"labelColor":"#000","labelOverlap":false,"labelFlush":false,"labelPadding":10,"domain":false,"grid":false,"ticks":true,"tickSize":4,"tickColor":"#555","offset":-9,"title":null}},"y2":{"datum":20}}},
 {"data":{"name":"one"},"mark":{"type":"rule","color":"#555"},"encoding":{"x":{"datum":0,"type":"quantitative","axis":null},"y":{"datum":-40,"type":"quantitative","axis":{"values":[-40,-20,0,20],"labels":true,"labelExpr":"'' + datum.value","labelFont":"Liberation Serif","labelFontSize":13.5,"labelColor":"#000","labelOverlap":false,"labelFlush":false,"labelPadding":10,"domain":false,"grid":false,"ticks":true,"tickSize":4,"tickColor":"#555","offset":-9,"title":null}},"y2":{"datum":20}}},
 {"data":{"name":"one"},"mark":{"type":"rule","color":"#000","strokeWidth":2.6},"encoding":{"x":{"datum":0,"type":"quantitative","axis":null},"x2":{"datum":13},"y":{"datum":0,"type":"quantitative","axis":{"values":[-40,-20,0,20],"labels":true,"labelExpr":"'' + datum.value","labelFont":"Liberation Serif","labelFontSize":13.5,"labelColor":"#000","labelOverlap":false,"labelFlush":false,"labelPadding":10,"domain":false,"grid":false,"ticks":true,"tickSize":4,"tickColor":"#555","offset":-9,"title":null}}}},
 {"data":{"name":"pts"},"transform":[{"filter":"datum.e=='Amplitude'&&datum.t=='CS'"}],"mark":{"type":"rule","color":"#111"},"encoding":{"x":{"field":"g","type":"quantitative","axis":null},"y":{"field":"l","type":"quantitative","axis":{"values":[-40,-20,0,20],"labels":true,"labelExpr":"'' + datum.value","labelFont":"Liberation Serif","labelFontSize":13.5,"labelColor":"#000","labelOverlap":false,"labelFlush":false,"labelPadding":10,"domain":false,"grid":false,"ticks":true,"tickSize":4,"tickColor":"#555","offset":-9,"title":null}},"y2":{"field":"u"}}},
 {"data":{"name":"pts"},"transform":[{"filter":"datum.e=='Amplitude'&&datum.t=='CS'"},{"fold":["l","u"],"as":["k","v"]}],"mark":{"type":"tick","orient":"horizontal","size":6,"thickness":1,"color":"#666"},"encoding":{"x":{"field":"g","type":"quantitative","axis":null},"y":{"field":"v","type":"quantitative","axis":{"values":[-40,-20,0,20],"labels":true,"labelExpr":"'' + datum.value","labelFont":"Liberation Serif","labelFontSize":13.5,"labelColor":"#000","labelOverlap":false,"labelFlush":false,"labelPadding":10,"domain":false,"grid":false,"ticks":true,"tickSize":4,"tickColor":"#555","offset":-9,"title":null}}}},
 {"data":{"name":"pts"},"transform":[{"filter":"datum.e=='Amplitude'&&datum.t=='CS'"}],"mark":{"type":"point","shape":"M0,-1L0.83,0L0,1L-0.83,0Z","filled":true,"size":150,"stroke":"#000","strokeWidth":0.6,"opacity":1},"encoding":{"x":{"field":"g","type":"quantitative","axis":null},"y":{"field":"m","type":"quantitative","axis":{"values":[-40,-20,0,20],"labels":true,"labelExpr":"'' + datum.value","labelFont":"Liberation Serif","labelFontSize":13.5,"labelColor":"#000","labelOverlap":false,"labelFlush":false,"labelPadding":10,"domain":false,"grid":false,"ticks":true,"tickSize":4,"tickColor":"#555","offset":-9,"title":null}},"fill":{"field":"s","type":"nominal","scale":{"domain":[0,1],"range":["#000000","#e8000b"]},"legend":null}}},
 {"data":{"name":"ann"},"transform":[{"filter":"datum.e=='Amplitude'&&datum.t=='CS'"}],"mark":{"type":"text","fontSize":13,"dy":4},"encoding":{"x":{"field":"p","type":"quantitative","axis":null},"y":{"datum":-40,"type":"quantitative","axis":{"values":[-40,-20,0,20],"labels":true,"labelExpr":"'' + datum.value","labelFont":"Liberation Serif","labelFontSize":13.5,"labelColor":"#000","labelOverlap":false,"labelFlush":false,"labelPadding":10,"domain":false,"grid":false,"ticks":true,"tickSize":4,"tickColor":"#555","offset":-9,"title":null}},"text":{"field":"a"}}}
]},
{"width":221,"height":131,"layer":[
 {"data":{"name":"seps"},"mark":{"type":"rule","color":"#aaa"},"encoding":{"x":{"field":"s","type":"quantitative","scale":{"domain":[-0.58,13.72],"nice":false,"zero":false},"axis":null},"y":{"datum":-40,"type":"quantitative","scale":{"domain":[-45.4,25.4],"nice":false,"zero":false},"axis":{"values":[-40,-20,0,20],"labels":false,"domain":false,"grid":false,"ticks":true,"tickSize":4,"tickColor":"#555","offset":-9,"title":null}},"y2":{"datum":20}}},
 {"data":{"name":"one"},"mark":{"type":"rule","color":"#555"},"encoding":{"x":{"datum":0,"type":"quantitative","axis":null},"y":{"datum":-40,"type":"quantitative","axis":{"values":[-40,-20,0,20],"labels":false,"domain":false,"grid":false,"ticks":true,"tickSize":4,"tickColor":"#555","offset":-9,"title":null}},"y2":{"datum":20}}},
 {"data":{"name":"one"},"mark":{"type":"rule","color":"#000","strokeWidth":2.6},"encoding":{"x":{"datum":0,"type":"quantitative","axis":null},"x2":{"datum":13},"y":{"datum":0,"type":"quantitative","axis":{"values":[-40,-20,0,20],"labels":false,"domain":false,"grid":false,"ticks":true,"tickSize":4,"tickColor":"#555","offset":-9,"title":null}}}},
 {"data":{"name":"pts"},"transform":[{"filter":"datum.e=='Amplitude'&&datum.t=='CQ'"}],"mark":{"type":"rule","color":"#111"},"encoding":{"x":{"field":"g","type":"quantitative","axis":null},"y":{"field":"l","type":"quantitative","axis":{"values":[-40,-20,0,20],"labels":false,"domain":false,"grid":false,"ticks":true,"tickSize":4,"tickColor":"#555","offset":-9,"title":null}},"y2":{"field":"u"}}},
 {"data":{"name":"pts"},"transform":[{"filter":"datum.e=='Amplitude'&&datum.t=='CQ'"},{"fold":["l","u"],"as":["k","v"]}],"mark":{"type":"tick","orient":"horizontal","size":6,"thickness":1,"color":"#666"},"encoding":{"x":{"field":"g","type":"quantitative","axis":null},"y":{"field":"v","type":"quantitative","axis":{"values":[-40,-20,0,20],"labels":false,"domain":false,"grid":false,"ticks":true,"tickSize":4,"tickColor":"#555","offset":-9,"title":null}}}},
 {"data":{"name":"pts"},"transform":[{"filter":"datum.e=='Amplitude'&&datum.t=='CQ'"}],"mark":{"type":"point","shape":"M0,-1L0.83,0L0,1L-0.83,0Z","filled":true,"size":150,"stroke":"#000","strokeWidth":0.6,"opacity":1},"encoding":{"x":{"field":"g","type":"quantitative","axis":null},"y":{"field":"m","type":"quantitative","axis":{"values":[-40,-20,0,20],"labels":false,"domain":false,"grid":false,"ticks":true,"tickSize":4,"tickColor":"#555","offset":-9,"title":null}},"fill":{"field":"s","type":"nominal","scale":{"domain":[0,1],"range":["#000000","#e8000b"]},"legend":null}}},
 {"data":{"name":"ann"},"transform":[{"filter":"datum.e=='Amplitude'&&datum.t=='CQ'"}],"mark":{"type":"text","fontSize":13,"dy":4},"encoding":{"x":{"field":"p","type":"quantitative","axis":null},"y":{"datum":-40,"type":"quantitative","axis":{"values":[-40,-20,0,20],"labels":false,"domain":false,"grid":false,"ticks":true,"tickSize":4,"tickColor":"#555","offset":-9,"title":null}},"text":{"field":"a"}}}
]},
{"width":221,"height":131,"layer":[
 {"data":{"name":"seps"},"mark":{"type":"rule","color":"#aaa"},"encoding":{"x":{"field":"s","type":"quantitative","scale":{"domain":[-0.58,13.72],"nice":false,"zero":false},"axis":null},"y":{"datum":-40,"type":"quantitative","scale":{"domain":[-45.4,25.4],"nice":false,"zero":false},"axis":{"values":[-40,-20,0,20],"labels":false,"domain":false,"grid":false,"ticks":true,"tickSize":4,"tickColor":"#555","offset":-9,"title":null}},"y2":{"datum":20}}},
 {"data":{"name":"one"},"mark":{"type":"rule","color":"#555"},"encoding":{"x":{"datum":0,"type":"quantitative","axis":null},"y":{"datum":-40,"type":"quantitative","axis":{"values":[-40,-20,0,20],"labels":false,"domain":false,"grid":false,"ticks":true,"tickSize":4,"tickColor":"#555","offset":-9,"title":null}},"y2":{"datum":20}}},
 {"data":{"name":"one"},"mark":{"type":"rule","color":"#000","strokeWidth":2.6},"encoding":{"x":{"datum":0,"type":"quantitative","axis":null},"x2":{"datum":13},"y":{"datum":0,"type":"quantitative","axis":{"values":[-40,-20,0,20],"labels":false,"domain":false,"grid":false,"ticks":true,"tickSize":4,"tickColor":"#555","offset":-9,"title":null}}}},
 {"data":{"name":"pts"},"transform":[{"filter":"datum.e=='Amplitude'&&datum.t=='Cd'"}],"mark":{"type":"rule","color":"#111"},"encoding":{"x":{"field":"g","type":"quantitative","axis":null},"y":{"field":"l","type":"quantitative","axis":{"values":[-40,-20,0,20],"labels":false,"domain":false,"grid":false,"ticks":true,"tickSize":4,"tickColor":"#555","offset":-9,"title":null}},"y2":{"field":"u"}}},
 {"data":{"name":"pts"},"transform":[{"filter":"datum.e=='Amplitude'&&datum.t=='Cd'"},{"fold":["l","u"],"as":["k","v"]}],"mark":{"type":"tick","orient":"horizontal","size":6,"thickness":1,"color":"#666"},"encoding":{"x":{"field":"g","type":"quantitative","axis":null},"y":{"field":"v","type":"quantitative","axis":{"values":[-40,-20,0,20],"labels":false,"domain":false,"grid":false,"ticks":true,"tickSize":4,"tickColor":"#555","offset":-9,"title":null}}}},
 {"data":{"name":"pts"},"transform":[{"filter":"datum.e=='Amplitude'&&datum.t=='Cd'"}],"mark":{"type":"point","shape":"M0,-1L0.83,0L0,1L-0.83,0Z","filled":true,"size":150,"stroke":"#000","strokeWidth":0.6,"opacity":1},"encoding":{"x":{"field":"g","type":"quantitative","axis":null},"y":{"field":"m","type":"quantitative","axis":{"values":[-40,-20,0,20],"labels":false,"domain":false,"grid":false,"ticks":true,"tickSize":4,"tickColor":"#555","offset":-9,"title":null}},"fill":{"field":"s","type":"nominal","scale":{"domain":[0,1],"range":["#000000","#e8000b"]},"legend":null}}},
 {"data":{"name":"ann"},"transform":[{"filter":"datum.e=='Amplitude'&&datum.t=='Cd'"}],"mark":{"type":"text","fontSize":13,"dy":4},"encoding":{"x":{"field":"p","type":"quantitative","axis":null},"y":{"datum":-40,"type":"quantitative","axis":{"values":[-40,-20,0,20],"labels":false,"domain":false,"grid":false,"ticks":true,"tickSize":4,"tickColor":"#555","offset":-9,"title":null}},"text":{"field":"a"}}}
]},

{"width":127,"height":131,"view":{"stroke":null},"data":{"name":"one"},"layer":[
 {"mark":{"type":"text","fontSize":13.5,"text":"Wavelength"},"encoding":{"x":{"datum":-6.24,"type":"quantitative","scale":{"domain":[-8.8,-0.58],"nice":false,"zero":false},"axis":null},"y":{"datum":0,"type":"quantitative","scale":{"domain":[-45.4,25.4],"nice":false,"zero":false},"axis":null}}},
 {"mark":{"type":"rule","color":"#333"},"encoding":{"x":{"datum":-3.95,"type":"quantitative","axis":null},"y":{"datum":25.4,"type":"quantitative","axis":null},"y2":{"datum":-45.4}}}
]},
{"width":221,"height":131,"layer":[
 {"data":{"name":"seps"},"mark":{"type":"rule","color":"#aaa"},"encoding":{"x":{"field":"s","type":"quantitative","scale":{"domain":[-0.58,13.72],"nice":false,"zero":false},"axis":null},"y":{"datum":-40,"type":"quantitative","scale":{"domain":[-45.4,25.4],"nice":false,"zero":false},"axis":{"values":[-40,-20,0,20],"labels":true,"labelExpr":"'' + datum.value","labelFont":"Liberation Serif","labelFontSize":13.5,"labelColor":"#000","labelOverlap":false,"labelFlush":false,"labelPadding":10,"domain":false,"grid":false,"ticks":true,"tickSize":4,"tickColor":"#555","offset":-9,"title":null}},"y2":{"datum":20}}},
 {"data":{"name":"one"},"mark":{"type":"rule","color":"#555"},"encoding":{"x":{"datum":0,"type":"quantitative","axis":null},"y":{"datum":-40,"type":"quantitative","axis":{"values":[-40,-20,0,20],"labels":true,"labelExpr":"'' + datum.value","labelFont":"Liberation Serif","labelFontSize":13.5,"labelColor":"#000","labelOverlap":false,"labelFlush":false,"labelPadding":10,"domain":false,"grid":false,"ticks":true,"tickSize":4,"tickColor":"#555","offset":-9,"title":null}},"y2":{"datum":20}}},
 {"data":{"name":"one"},"mark":{"type":"rule","color":"#000","strokeWidth":2.6},"encoding":{"x":{"datum":0,"type":"quantitative","axis":null},"x2":{"datum":13},"y":{"datum":0,"type":"quantitative","axis":{"values":[-40,-20,0,20],"labels":true,"labelExpr":"'' + datum.value","labelFont":"Liberation Serif","labelFontSize":13.5,"labelColor":"#000","labelOverlap":false,"labelFlush":false,"labelPadding":10,"domain":false,"grid":false,"ticks":true,"tickSize":4,"tickColor":"#555","offset":-9,"title":null}}}},
 {"data":{"name":"pts"},"transform":[{"filter":"datum.e=='Wavelength'&&datum.t=='CS'"}],"mark":{"type":"rule","color":"#111"},"encoding":{"x":{"field":"g","type":"quantitative","axis":null},"y":{"field":"l","type":"quantitative","axis":{"values":[-40,-20,0,20],"labels":true,"labelExpr":"'' + datum.value","labelFont":"Liberation Serif","labelFontSize":13.5,"labelColor":"#000","labelOverlap":false,"labelFlush":false,"labelPadding":10,"domain":false,"grid":false,"ticks":true,"tickSize":4,"tickColor":"#555","offset":-9,"title":null}},"y2":{"field":"u"}}},
 {"data":{"name":"pts"},"transform":[{"filter":"datum.e=='Wavelength'&&datum.t=='CS'"},{"fold":["l","u"],"as":["k","v"]}],"mark":{"type":"tick","orient":"horizontal","size":6,"thickness":1,"color":"#666"},"encoding":{"x":{"field":"g","type":"quantitative","axis":null},"y":{"field":"v","type":"quantitative","axis":{"values":[-40,-20,0,20],"labels":true,"labelExpr":"'' + datum.value","labelFont":"Liberation Serif","labelFontSize":13.5,"labelColor":"#000","labelOverlap":false,"labelFlush":false,"labelPadding":10,"domain":false,"grid":false,"ticks":true,"tickSize":4,"tickColor":"#555","offset":-9,"title":null}}}},
 {"data":{"name":"pts"},"transform":[{"filter":"datum.e=='Wavelength'&&datum.t=='CS'"}],"mark":{"type":"point","shape":"M0,-1L0.83,0L0,1L-0.83,0Z","filled":true,"size":150,"stroke":"#000","strokeWidth":0.6,"opacity":1},"encoding":{"x":{"field":"g","type":"quantitative","axis":null},"y":{"field":"m","type":"quantitative","axis":{"values":[-40,-20,0,20],"labels":true,"labelExpr":"'' + datum.value","labelFont":"Liberation Serif","labelFontSize":13.5,"labelColor":"#000","labelOverlap":false,"labelFlush":false,"labelPadding":10,"domain":false,"grid":false,"ticks":true,"tickSize":4,"tickColor":"#555","offset":-9,"title":null}},"fill":{"field":"s","type":"nominal","scale":{"domain":[0,1],"range":["#000000","#e8000b"]},"legend":null}}},
 {"data":{"name":"ann"},"transform":[{"filter":"datum.e=='Wavelength'&&datum.t=='CS'"}],"mark":{"type":"text","fontSize":13,"dy":4},"encoding":{"x":{"field":"p","type":"quantitative","axis":null},"y":{"datum":-40,"type":"quantitative","axis":{"values":[-40,-20,0,20],"labels":true,"labelExpr":"'' + datum.value","labelFont":"Liberation Serif","labelFontSize":13.5,"labelColor":"#000","labelOverlap":false,"labelFlush":false,"labelPadding":10,"domain":false,"grid":false,"ticks":true,"tickSize":4,"tickColor":"#555","offset":-9,"title":null}},"text":{"field":"a"}}}
]},
{"width":221,"height":131,"layer":[
 {"data":{"name":"seps"},"mark":{"type":"rule","color":"#aaa"},"encoding":{"x":{"field":"s","type":"quantitative","scale":{"domain":[-0.58,13.72],"nice":false,"zero":false},"axis":null},"y":{"datum":-40,"type":"quantitative","scale":{"domain":[-45.4,25.4],"nice":false,"zero":false},"axis":{"values":[-40,-20,0,20],"labels":false,"domain":false,"grid":false,"ticks":true,"tickSize":4,"tickColor":"#555","offset":-9,"title":null}},"y2":{"datum":20}}},
 {"data":{"name":"one"},"mark":{"type":"rule","color":"#555"},"encoding":{"x":{"datum":0,"type":"quantitative","axis":null},"y":{"datum":-40,"type":"quantitative","axis":{"values":[-40,-20,0,20],"labels":false,"domain":false,"grid":false,"ticks":true,"tickSize":4,"tickColor":"#555","offset":-9,"title":null}},"y2":{"datum":20}}},
 {"data":{"name":"one"},"mark":{"type":"rule","color":"#000","strokeWidth":2.6},"encoding":{"x":{"datum":0,"type":"quantitative","axis":null},"x2":{"datum":13},"y":{"datum":0,"type":"quantitative","axis":{"values":[-40,-20,0,20],"labels":false,"domain":false,"grid":false,"ticks":true,"tickSize":4,"tickColor":"#555","offset":-9,"title":null}}}},
 {"data":{"name":"pts"},"transform":[{"filter":"datum.e=='Wavelength'&&datum.t=='CQ'"}],"mark":{"type":"rule","color":"#111"},"encoding":{"x":{"field":"g","type":"quantitative","axis":null},"y":{"field":"l","type":"quantitative","axis":{"values":[-40,-20,0,20],"labels":false,"domain":false,"grid":false,"ticks":true,"tickSize":4,"tickColor":"#555","offset":-9,"title":null}},"y2":{"field":"u"}}},
 {"data":{"name":"pts"},"transform":[{"filter":"datum.e=='Wavelength'&&datum.t=='CQ'"},{"fold":["l","u"],"as":["k","v"]}],"mark":{"type":"tick","orient":"horizontal","size":6,"thickness":1,"color":"#666"},"encoding":{"x":{"field":"g","type":"quantitative","axis":null},"y":{"field":"v","type":"quantitative","axis":{"values":[-40,-20,0,20],"labels":false,"domain":false,"grid":false,"ticks":true,"tickSize":4,"tickColor":"#555","offset":-9,"title":null}}}},
 {"data":{"name":"pts"},"transform":[{"filter":"datum.e=='Wavelength'&&datum.t=='CQ'"}],"mark":{"type":"point","shape":"M0,-1L0.83,0L0,1L-0.83,0Z","filled":true,"size":150,"stroke":"#000","strokeWidth":0.6,"opacity":1},"encoding":{"x":{"field":"g","type":"quantitative","axis":null},"y":{"field":"m","type":"quantitative","axis":{"values":[-40,-20,0,20],"labels":false,"domain":false,"grid":false,"ticks":true,"tickSize":4,"tickColor":"#555","offset":-9,"title":null}},"fill":{"field":"s","type":"nominal","scale":{"domain":[0,1],"range":["#000000","#e8000b"]},"legend":null}}},
 {"data":{"name":"ann"},"transform":[{"filter":"datum.e=='Wavelength'&&datum.t=='CQ'"}],"mark":{"type":"text","fontSize":13,"dy":4},"encoding":{"x":{"field":"p","type":"quantitative","axis":null},"y":{"datum":-40,"type":"quantitative","axis":{"values":[-40,-20,0,20],"labels":false,"domain":false,"grid":false,"ticks":true,"tickSize":4,"tickColor":"#555","offset":-9,"title":null}},"text":{"field":"a"}}}
]},
{"width":221,"height":131,"layer":[
 {"data":{"name":"seps"},"mark":{"type":"rule","color":"#aaa"},"encoding":{"x":{"field":"s","type":"quantitative","scale":{"domain":[-0.58,13.72],"nice":false,"zero":false},"axis":null},"y":{"datum":-40,"type":"quantitative","scale":{"domain":[-45.4,25.4],"nice":false,"zero":false},"axis":{"values":[-40,-20,0,20],"labels":false,"domain":false,"grid":false,"ticks":true,"tickSize":4,"tickColor":"#555","offset":-9,"title":null}},"y2":{"datum":20}}},
 {"data":{"name":"one"},"mark":{"type":"rule","color":"#555"},"encoding":{"x":{"datum":0,"type":"quantitative","axis":null},"y":{"datum":-40,"type":"quantitative","axis":{"values":[-40,-20,0,20],"labels":false,"domain":false,"grid":false,"ticks":true,"tickSize":4,"tickColor":"#555","offset":-9,"title":null}},"y2":{"datum":20}}},
 {"data":{"name":"one"},"mark":{"type":"rule","color":"#000","strokeWidth":2.6},"encoding":{"x":{"datum":0,"type":"quantitative","axis":null},"x2":{"datum":13},"y":{"datum":0,"type":"quantitative","axis":{"values":[-40,-20,0,20],"labels":false,"domain":false,"grid":false,"ticks":true,"tickSize":4,"tickColor":"#555","offset":-9,"title":null}}}},
 {"data":{"name":"pts"},"transform":[{"filter":"datum.e=='Wavelength'&&datum.t=='Cd'"}],"mark":{"type":"rule","color":"#111"},"encoding":{"x":{"field":"g","type":"quantitative","axis":null},"y":{"field":"l","type":"quantitative","axis":{"values":[-40,-20,0,20],"labels":false,"domain":false,"grid":false,"ticks":true,"tickSize":4,"tickColor":"#555","offset":-9,"title":null}},"y2":{"field":"u"}}},
 {"data":{"name":"pts"},"transform":[{"filter":"datum.e=='Wavelength'&&datum.t=='Cd'"},{"fold":["l","u"],"as":["k","v"]}],"mark":{"type":"tick","orient":"horizontal","size":6,"thickness":1,"color":"#666"},"encoding":{"x":{"field":"g","type":"quantitative","axis":null},"y":{"field":"v","type":"quantitative","axis":{"values":[-40,-20,0,20],"labels":false,"domain":false,"grid":false,"ticks":true,"tickSize":4,"tickColor":"#555","offset":-9,"title":null}}}},
 {"data":{"name":"pts"},"transform":[{"filter":"datum.e=='Wavelength'&&datum.t=='Cd'"}],"mark":{"type":"point","shape":"M0,-1L0.83,0L0,1L-0.83,0Z","filled":true,"size":150,"stroke":"#000","strokeWidth":0.6,"opacity":1},"encoding":{"x":{"field":"g","type":"quantitative","axis":null},"y":{"field":"m","type":"quantitative","axis":{"values":[-40,-20,0,20],"labels":false,"domain":false,"grid":false,"ticks":true,"tickSize":4,"tickColor":"#555","offset":-9,"title":null}},"fill":{"field":"s","type":"nominal","scale":{"domain":[0,1],"range":["#000000","#e8000b"]},"legend":null}}},
 {"data":{"name":"ann"},"transform":[{"filter":"datum.e=='Wavelength'&&datum.t=='Cd'"}],"mark":{"type":"text","fontSize":13,"dy":4},"encoding":{"x":{"field":"p","type":"quantitative","axis":null},"y":{"datum":-40,"type":"quantitative","axis":{"values":[-40,-20,0,20],"labels":false,"domain":false,"grid":false,"ticks":true,"tickSize":4,"tickColor":"#555","offset":-9,"title":null}},"text":{"field":"a"}}}
]},

{"width":127,"height":131,"view":{"stroke":null},"data":{"name":"one"},"layer":[
 {"mark":{"type":"text","fontSize":13.5,"text":"Velocity"},"encoding":{"x":{"datum":-6.24,"type":"quantitative","scale":{"domain":[-8.8,-0.58],"nice":false,"zero":false},"axis":null},"y":{"datum":14.5,"type":"quantitative","scale":{"domain":[-94.4,94.4],"nice":false,"zero":false},"axis":null}}},
 {"mark":{"type":"rule","color":"#333"},"encoding":{"x":{"datum":-3.95,"type":"quantitative","axis":null},"y":{"datum":94.4,"type":"quantitative","axis":null},"y2":{"datum":-74.7}}}
]},
{"width":221,"height":131,"layer":[
 {"data":{"name":"seps"},"mark":{"type":"rule","color":"#aaa"},"encoding":{"x":{"field":"s","type":"quantitative","scale":{"domain":[-0.58,13.72],"nice":false,"zero":false},"axis":null},"y":{"datum":-80,"type":"quantitative","scale":{"domain":[-94.4,94.4],"nice":false,"zero":false},"axis":{"values":[-80,-40,0,40,80],"labels":true,"labelExpr":"'' + datum.value","labelFont":"Liberation Serif","labelFontSize":13.5,"labelColor":"#000","labelOverlap":false,"labelFlush":false,"labelPadding":10,"domain":false,"grid":false,"ticks":true,"tickSize":4,"tickColor":"#555","offset":-9,"title":null}},"y2":{"datum":80}}},
 {"data":{"name":"one"},"mark":{"type":"rule","color":"#555"},"encoding":{"x":{"datum":0,"type":"quantitative","axis":null},"y":{"datum":-80,"type":"quantitative","axis":{"values":[-80,-40,0,40,80],"labels":true,"labelExpr":"'' + datum.value","labelFont":"Liberation Serif","labelFontSize":13.5,"labelColor":"#000","labelOverlap":false,"labelFlush":false,"labelPadding":10,"domain":false,"grid":false,"ticks":true,"tickSize":4,"tickColor":"#555","offset":-9,"title":null}},"y2":{"datum":80}}},
 {"data":{"name":"one"},"mark":{"type":"rule","color":"#000","strokeWidth":2.6},"encoding":{"x":{"datum":0,"type":"quantitative","axis":null},"x2":{"datum":13},"y":{"datum":0,"type":"quantitative","axis":{"values":[-80,-40,0,40,80],"labels":true,"labelExpr":"'' + datum.value","labelFont":"Liberation Serif","labelFontSize":13.5,"labelColor":"#000","labelOverlap":false,"labelFlush":false,"labelPadding":10,"domain":false,"grid":false,"ticks":true,"tickSize":4,"tickColor":"#555","offset":-9,"title":null}}}},
 {"data":{"name":"pts"},"transform":[{"filter":"datum.e=='Velocity'&&datum.t=='CS'"}],"mark":{"type":"rule","color":"#111"},"encoding":{"x":{"field":"g","type":"quantitative","axis":null},"y":{"field":"l","type":"quantitative","axis":{"values":[-80,-40,0,40,80],"labels":true,"labelExpr":"'' + datum.value","labelFont":"Liberation Serif","labelFontSize":13.5,"labelColor":"#000","labelOverlap":false,"labelFlush":false,"labelPadding":10,"domain":false,"grid":false,"ticks":true,"tickSize":4,"tickColor":"#555","offset":-9,"title":null}},"y2":{"field":"u"}}},
 {"data":{"name":"pts"},"transform":[{"filter":"datum.e=='Velocity'&&datum.t=='CS'"},{"fold":["l","u"],"as":["k","v"]}],"mark":{"type":"tick","orient":"horizontal","size":6,"thickness":1,"color":"#666"},"encoding":{"x":{"field":"g","type":"quantitative","axis":null},"y":{"field":"v","type":"quantitative","axis":{"values":[-80,-40,0,40,80],"labels":true,"labelExpr":"'' + datum.value","labelFont":"Liberation Serif","labelFontSize":13.5,"labelColor":"#000","labelOverlap":false,"labelFlush":false,"labelPadding":10,"domain":false,"grid":false,"ticks":true,"tickSize":4,"tickColor":"#555","offset":-9,"title":null}}}},
 {"data":{"name":"pts"},"transform":[{"filter":"datum.e=='Velocity'&&datum.t=='CS'"}],"mark":{"type":"point","shape":"M0,-1L0.83,0L0,1L-0.83,0Z","filled":true,"size":150,"stroke":"#000","strokeWidth":0.6,"opacity":1},"encoding":{"x":{"field":"g","type":"quantitative","axis":null},"y":{"field":"m","type":"quantitative","axis":{"values":[-80,-40,0,40,80],"labels":true,"labelExpr":"'' + datum.value","labelFont":"Liberation Serif","labelFontSize":13.5,"labelColor":"#000","labelOverlap":false,"labelFlush":false,"labelPadding":10,"domain":false,"grid":false,"ticks":true,"tickSize":4,"tickColor":"#555","offset":-9,"title":null}},"fill":{"field":"s","type":"nominal","scale":{"domain":[0,1],"range":["#000000","#e8000b"]},"legend":null}}},
 {"data":{"name":"ann"},"transform":[{"filter":"datum.e=='Velocity'&&datum.t=='CS'"}],"mark":{"type":"text","fontSize":13,"dy":4},"encoding":{"x":{"field":"p","type":"quantitative","axis":null},"y":{"datum":-80,"type":"quantitative","axis":{"values":[-80,-40,0,40,80],"labels":true,"labelExpr":"'' + datum.value","labelFont":"Liberation Serif","labelFontSize":13.5,"labelColor":"#000","labelOverlap":false,"labelFlush":false,"labelPadding":10,"domain":false,"grid":false,"ticks":true,"tickSize":4,"tickColor":"#555","offset":-9,"title":null}},"text":{"field":"a"}}}
]},
{"width":221,"height":131,"layer":[
 {"data":{"name":"seps"},"mark":{"type":"rule","color":"#aaa"},"encoding":{"x":{"field":"s","type":"quantitative","scale":{"domain":[-0.58,13.72],"nice":false,"zero":false},"axis":null},"y":{"datum":-80,"type":"quantitative","scale":{"domain":[-94.4,94.4],"nice":false,"zero":false},"axis":{"values":[-80,-40,0,40,80],"labels":false,"domain":false,"grid":false,"ticks":true,"tickSize":4,"tickColor":"#555","offset":-9,"title":null}},"y2":{"datum":80}}},
 {"data":{"name":"one"},"mark":{"type":"rule","color":"#555"},"encoding":{"x":{"datum":0,"type":"quantitative","axis":null},"y":{"datum":-80,"type":"quantitative","axis":{"values":[-80,-40,0,40,80],"labels":false,"domain":false,"grid":false,"ticks":true,"tickSize":4,"tickColor":"#555","offset":-9,"title":null}},"y2":{"datum":80}}},
 {"data":{"name":"one"},"mark":{"type":"rule","color":"#000","strokeWidth":2.6},"encoding":{"x":{"datum":0,"type":"quantitative","axis":null},"x2":{"datum":13},"y":{"datum":0,"type":"quantitative","axis":{"values":[-80,-40,0,40,80],"labels":false,"domain":false,"grid":false,"ticks":true,"tickSize":4,"tickColor":"#555","offset":-9,"title":null}}}},
 {"data":{"name":"pts"},"transform":[{"filter":"datum.e=='Velocity'&&datum.t=='CQ'"}],"mark":{"type":"rule","color":"#111"},"encoding":{"x":{"field":"g","type":"quantitative","axis":null},"y":{"field":"l","type":"quantitative","axis":{"values":[-80,-40,0,40,80],"labels":false,"domain":false,"grid":false,"ticks":true,"tickSize":4,"tickColor":"#555","offset":-9,"title":null}},"y2":{"field":"u"}}},
 {"data":{"name":"pts"},"transform":[{"filter":"datum.e=='Velocity'&&datum.t=='CQ'"},{"fold":["l","u"],"as":["k","v"]}],"mark":{"type":"tick","orient":"horizontal","size":6,"thickness":1,"color":"#666"},"encoding":{"x":{"field":"g","type":"quantitative","axis":null},"y":{"field":"v","type":"quantitative","axis":{"values":[-80,-40,0,40,80],"labels":false,"domain":false,"grid":false,"ticks":true,"tickSize":4,"tickColor":"#555","offset":-9,"title":null}}}},
 {"data":{"name":"pts"},"transform":[{"filter":"datum.e=='Velocity'&&datum.t=='CQ'"}],"mark":{"type":"point","shape":"M0,-1L0.83,0L0,1L-0.83,0Z","filled":true,"size":150,"stroke":"#000","strokeWidth":0.6,"opacity":1},"encoding":{"x":{"field":"g","type":"quantitative","axis":null},"y":{"field":"m","type":"quantitative","axis":{"values":[-80,-40,0,40,80],"labels":false,"domain":false,"grid":false,"ticks":true,"tickSize":4,"tickColor":"#555","offset":-9,"title":null}},"fill":{"field":"s","type":"nominal","scale":{"domain":[0,1],"range":["#000000","#e8000b"]},"legend":null}}},
 {"data":{"name":"ann"},"transform":[{"filter":"datum.e=='Velocity'&&datum.t=='CQ'"}],"mark":{"type":"text","fontSize":13,"dy":4},"encoding":{"x":{"field":"p","type":"quantitative","axis":null},"y":{"datum":-80,"type":"quantitative","axis":{"values":[-80,-40,0,40,80],"labels":false,"domain":false,"grid":false,"ticks":true,"tickSize":4,"tickColor":"#555","offset":-9,"title":null}},"text":{"field":"a"}}}
]},
{"width":221,"height":131,"layer":[
 {"data":{"name":"seps"},"mark":{"type":"rule","color":"#aaa"},"encoding":{"x":{"field":"s","type":"quantitative","scale":{"domain":[-0.58,13.72],"nice":false,"zero":false},"axis":null},"y":{"datum":-80,"type":"quantitative","scale":{"domain":[-94.4,94.4],"nice":false,"zero":false},"axis":{"values":[-80,-40,0,40,80],"labels":false,"domain":false,"grid":false,"ticks":true,"tickSize":4,"tickColor":"#555","offset":-9,"title":null}},"y2":{"datum":80}}},
 {"data":{"name":"one"},"mark":{"type":"rule","color":"#555"},"encoding":{"x":{"datum":0,"type":"quantitative","axis":null},"y":{"datum":-80,"type":"quantitative","axis":{"values":[-80,-40,0,40,80],"labels":false,"domain":false,"grid":false,"ticks":true,"tickSize":4,"tickColor":"#555","offset":-9,"title":null}},"y2":{"datum":80}}},
 {"data":{"name":"one"},"mark":{"type":"rule","color":"#000","strokeWidth":2.6},"encoding":{"x":{"datum":0,"type":"quantitative","axis":null},"x2":{"datum":13},"y":{"datum":0,"type":"quantitative","axis":{"values":[-80,-40,0,40,80],"labels":false,"domain":false,"grid":false,"ticks":true,"tickSize":4,"tickColor":"#555","offset":-9,"title":null}}}},
 {"data":{"name":"pts"},"transform":[{"filter":"datum.e=='Velocity'&&datum.t=='Cd'"}],"mark":{"type":"rule","color":"#111"},"encoding":{"x":{"field":"g","type":"quantitative","axis":null},"y":{"field":"l","type":"quantitative","axis":{"values":[-80,-40,0,40,80],"labels":false,"domain":false,"grid":false,"ticks":true,"tickSize":4,"tickColor":"#555","offset":-9,"title":null}},"y2":{"field":"u"}}},
 {"data":{"name":"pts"},"transform":[{"filter":"datum.e=='Velocity'&&datum.t=='Cd'"},{"fold":["l","u"],"as":["k","v"]}],"mark":{"type":"tick","orient":"horizontal","size":6,"thickness":1,"color":"#666"},"encoding":{"x":{"field":"g","type":"quantitative","axis":null},"y":{"field":"v","type":"quantitative","axis":{"values":[-80,-40,0,40,80],"labels":false,"domain":false,"grid":false,"ticks":true,"tickSize":4,"tickColor":"#555","offset":-9,"title":null}}}},
 {"data":{"name":"pts"},"transform":[{"filter":"datum.e=='Velocity'&&datum.t=='Cd'"}],"mark":{"type":"point","shape":"M0,-1L0.83,0L0,1L-0.83,0Z","filled":true,"size":150,"stroke":"#000","strokeWidth":0.6,"opacity":1},"encoding":{"x":{"field":"g","type":"quantitative","axis":null},"y":{"field":"m","type":"quantitative","axis":{"values":[-80,-40,0,40,80],"labels":false,"domain":false,"grid":false,"ticks":true,"tickSize":4,"tickColor":"#555","offset":-9,"title":null}},"fill":{"field":"s","type":"nominal","scale":{"domain":[0,1],"range":["#000000","#e8000b"]},"legend":null}}},
 {"data":{"name":"ann"},"transform":[{"filter":"datum.e=='Velocity'&&datum.t=='Cd'"}],"mark":{"type":"text","fontSize":13,"dy":4},"encoding":{"x":{"field":"p","type":"quantitative","axis":null},"y":{"datum":-80,"type":"quantitative","axis":{"values":[-80,-40,0,40,80],"labels":false,"domain":false,"grid":false,"ticks":true,"tickSize":4,"tickColor":"#555","offset":-9,"title":null}},"text":{"field":"a"}}}
]}
]
}
